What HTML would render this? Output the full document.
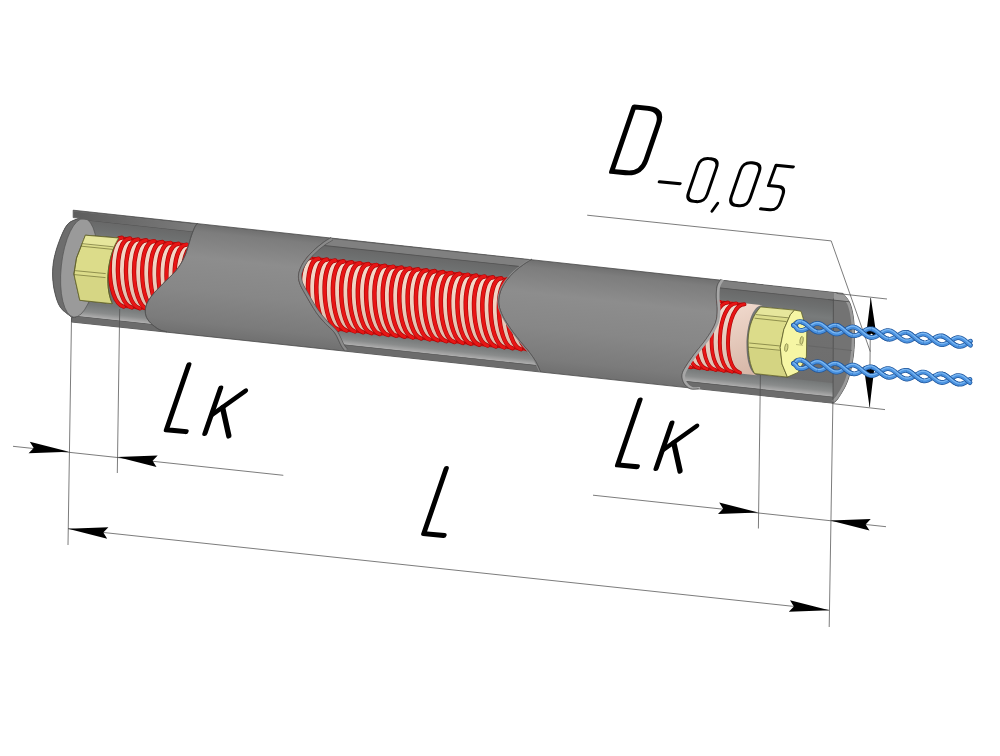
<!DOCTYPE html>
<html><head><meta charset="utf-8"><title>Cartridge heater</title>
<style>html,body{margin:0;padding:0;background:#fff;font-family:"Liberation Sans",sans-serif;}svg{display:block}</style></head>
<body>
<svg width="1000" height="756" viewBox="0 0 1000 756">
<defs>
<linearGradient id="gT" gradientUnits="userSpaceOnUse" x1="0" y1="202.4" x2="0" y2="314.3">
<stop offset="0" stop-color="#6e6e6e"/><stop offset="0.07" stop-color="#7d7d7d"/><stop offset="0.30" stop-color="#8d8d8d"/><stop offset="0.6" stop-color="#878787"/><stop offset="0.88" stop-color="#7b7b7b"/><stop offset="1" stop-color="#707070"/></linearGradient>
<linearGradient id="gI" gradientUnits="userSpaceOnUse" x1="0" y1="209.4" x2="0" y2="314.3">
<stop offset="0" stop-color="#676767"/><stop offset="0.1" stop-color="#6e7070"/><stop offset="0.19" stop-color="#787b7b"/><stop offset="0.3" stop-color="#707070"/><stop offset="1" stop-color="#6c6c6c"/></linearGradient>
<linearGradient id="gB" gradientUnits="userSpaceOnUse" x1="0" y1="294" x2="0" y2="308"><stop offset="0" stop-color="#747777"/><stop offset="0.3" stop-color="#7e8181"/><stop offset="0.6" stop-color="#8a8c8c"/><stop offset="0.88" stop-color="#a6a6a6"/><stop offset="1" stop-color="#b4b4b4"/></linearGradient>
<linearGradient id="gC3" gradientUnits="userSpaceOnUse" x1="725" y1="225" x2="760" y2="295"><stop offset="0" stop-color="#f2dcd0"/><stop offset="0.5" stop-color="#e4c8ba"/><stop offset="1" stop-color="#d4b4a4"/></linearGradient>
<linearGradient id="gLB" gradientUnits="userSpaceOnUse" x1="70" y1="0" x2="200" y2="0"><stop offset="0" stop-color="#5c5c5c"/><stop offset="0.5" stop-color="#6c6c6c"/><stop offset="1" stop-color="#7c7c7c"/></linearGradient>
<linearGradient id="gC" gradientUnits="userSpaceOnUse" x1="0" y1="222" x2="0" y2="296">
<stop offset="0" stop-color="#f6dccd"/><stop offset="0.5" stop-color="#efd0c0"/><stop offset="1" stop-color="#dcb8a8"/></linearGradient>
<clipPath id="c1"><path d="M73.2,210.2 L197.8,223.0 L197.8,223.0 C197.3,223.6 196.1,224.5 195.0,226.7 C193.9,228.8 192.4,232.8 191.3,235.9 C190.2,239.0 189.7,241.5 188.5,245.2 C187.3,248.9 186.1,253.8 183.9,258.1 C181.8,262.4 179.2,266.8 175.6,271.1 C172.0,275.4 166.6,279.9 162.6,284.1 C158.6,288.3 154.3,292.4 151.5,296.1 C148.7,299.8 146.8,303.1 145.9,306.3 C145.0,309.6 145.1,312.8 145.9,315.6 C146.7,318.4 148.4,320.7 150.6,323.0 C152.8,325.3 156.2,327.9 158.9,329.4 C161.6,330.9 165.5,331.4 166.8,331.8 L71.5,322.0 L50,320 L45,270 L60,215 Z"/></clipPath>
<clipPath id="c2"><path d="M331.1,237.6 C329.9,238.4 326.8,239.9 323.7,242.2 C320.6,244.5 316.0,248.1 312.6,251.5 C309.2,254.9 305.6,258.9 303.3,262.6 C301.0,266.3 299.3,270.3 298.7,273.7 C298.1,277.1 298.5,279.6 299.6,283.0 C300.7,286.4 302.4,289.2 305.2,294.1 C308.0,299.0 312.9,307.7 316.3,312.6 C319.7,317.5 322.5,320.3 325.6,323.7 C328.7,327.1 332.2,329.3 334.8,333.0 C337.4,336.7 339.6,342.9 341.3,345.9 C343.0,348.9 344.4,350.0 345.0,350.8 L540.5,371.7 L540.5,371.7 C539.7,370.0 537.6,364.8 535.7,361.5 C533.8,358.2 531.9,355.6 529.3,352.2 C526.7,348.8 523.4,345.4 520.0,341.1 C516.6,336.8 512.0,330.9 508.9,326.3 C505.8,321.7 503.2,317.3 501.5,313.3 C499.8,309.3 498.8,305.9 498.7,302.2 C498.6,298.5 499.4,294.7 500.6,291.1 C501.8,287.6 503.8,284.1 506.1,280.9 C508.4,277.7 511.5,274.5 514.4,271.7 C517.3,268.9 520.8,266.4 523.7,264.3 C526.6,262.2 530.6,260.0 532.0,259.1 Z"/></clipPath>
<clipPath id="c3"><path d="M720.9,279.3 C720.3,280.4 718.0,282.9 717.2,285.9 C716.4,288.8 716.3,293.0 716.3,297.0 C716.3,301.0 717.4,305.7 717.2,310.0 C717.1,314.3 717.1,318.4 715.4,323.0 C713.7,327.6 710.5,332.6 707.0,337.8 C703.5,343.0 697.6,349.6 694.1,354.4 C690.6,359.2 687.7,363.1 685.7,366.5 C683.7,369.9 682.3,372.0 682.0,374.8 C681.7,377.6 682.5,380.8 683.9,383.1 C685.3,385.4 687.9,387.8 690.4,388.7 C692.9,389.6 697.3,388.7 698.7,388.7 L833.0,403.4 L860,400 L860,290 L843.0,292.6 Z"/></clipPath>
</defs>
<clipPath id="ct"><path d="M73.2,210.2 L842.9,293.4 L842.9,293.4 C844.1,295.0 848.2,298.9 850.0,303.2 C851.8,307.5 852.9,313.3 853.6,319.3 C854.4,325.3 854.6,332.1 854.5,339.0 C854.4,345.9 853.9,353.3 852.7,360.4 C851.5,367.5 849.7,375.6 847.3,381.8 C844.9,388.1 840.8,394.3 838.4,397.9 C836.0,401.5 833.9,402.3 833.0,403.2 L71.5,322.0 L71.5,317.2  L72.4,317.6 C70.4,315.9 63.3,311.6 60.4,307.4 C57.5,303.2 56.1,297.9 54.8,292.6 C53.5,287.4 52.8,281.4 52.6,275.9 C52.5,270.3 52.8,265.2 53.9,259.3 C55.0,253.4 57.1,246.6 59.4,240.7 C61.7,234.8 64.4,227.9 67.8,224.1 C71.2,220.3 77.8,219.1 79.8,218.1 L73.2,217.6 Z"/></clipPath><g clip-path="url(#ct)"><g transform="matrix(1,0.107,0,1,0,0)"><rect x="40" y="200.4" width="830" height="115.9" fill="url(#gT)"/></g></g>
<path d="M73.2,210.2 L842.9,293.4 L842.9,293.4 C844.1,295.0 848.2,298.9 850.0,303.2 C851.8,307.5 852.9,313.3 853.6,319.3 C854.4,325.3 854.6,332.1 854.5,339.0 C854.4,345.9 853.9,353.3 852.7,360.4 C851.5,367.5 849.7,375.6 847.3,381.8 C844.9,388.1 840.8,394.3 838.4,397.9 C836.0,401.5 833.9,402.3 833.0,403.2 L71.5,322.0 L71.5,317.2  L72.4,317.6 C70.4,315.9 63.3,311.6 60.4,307.4 C57.5,303.2 56.1,297.9 54.8,292.6 C53.5,287.4 52.8,281.4 52.6,275.9 C52.5,270.3 52.8,265.2 53.9,259.3 C55.0,253.4 57.1,246.6 59.4,240.7 C61.7,234.8 64.4,227.9 67.8,224.1 C71.2,220.3 77.8,219.1 79.8,218.1 L73.2,217.6 Z" fill="none" stroke="#4a4a4a" stroke-width="0.8"/>
<g clip-path="url(#ct)">
<g clip-path="url(#c1)"><g transform="matrix(1,0.107,0,1,0,0)">
<rect x="40" y="199.4" width="170" height="117.9" fill="url(#gI)"/>
<rect x="40" y="199.4" width="170" height="4.2" fill="#5e5e5e"/>
<rect x="40" y="203.5" width="170" height="7.2" fill="#808080"/>
<rect x="40" y="210.4" width="170" height="0.9" fill="#545454"/>
<rect x="40" y="294.0" width="170" height="14.0" fill="url(#gB)"/>
<rect x="40" y="307.9" width="170" height="9.0" fill="#6c6c6c"/>
<rect x="40" y="307.6" width="170" height="0.7" fill="#585858"/>
</g></g>
<g clip-path="url(#c1)">
<path d="M79.8,218.1 C77.8,219.1 71.2,220.3 67.8,224.1 C64.4,227.9 61.7,234.8 59.4,240.7 C57.1,246.6 55.0,253.4 53.9,259.3 C52.8,265.2 52.5,270.3 52.6,275.9 C52.8,281.4 53.5,287.4 54.8,292.6 C56.1,297.9 57.5,303.2 60.4,307.4 C63.3,311.6 70.4,315.9 72.4,317.6 L76.0,317.0 L84.0,219.5 Z" fill="#6d6d6d" stroke="#444" stroke-width="0.7"/>
<ellipse cx="79" cy="267.8" rx="17.8" ry="49.6" transform="rotate(6 79 267.8)" fill="#9a9a9a" stroke="#555" stroke-width="0.7"/>
<g transform="matrix(1,0.107,0,1,0,0)"><path d="M91,290 L215,290 L215,307.6 L79.5,307.6 C85,303 89,297 91,290 Z" fill="url(#gB)"/></g>
</g>
<g clip-path="url(#ct)"><g clip-path="url(#c1)"><g transform="matrix(1,0.107,0,1,0,0)"><rect x="60" y="203.5" width="150" height="7.2" fill="url(#gLB)"/></g></g></g>
<g clip-path="url(#c1)"><g transform="matrix(1,0.107,0,1,0,0)">
<path d="M121.0,223.6 L200.0,223.6 C182.7,223.6 184.2,294.4 201.5,294.4 L122.5,294.4 C105.2,294.4 103.7,223.6 121.0,223.6 Z" fill="url(#gC)"/>
<path d="M122.0,224.6 L211.1,224.6 M123.5,293.4 L212.6,293.4" fill="none" stroke="#c80c0c" stroke-width="2.4"/>
<path d="M122.0,224.6 C104.7,226.6 106.2,291.4 123.5,293.4" fill="none" stroke="#a80808" stroke-width="4.3" stroke-linecap="round"/>
<path d="M122.0,224.6 C104.7,226.6 106.2,291.4 123.5,293.4" fill="none" stroke="#e81515" stroke-width="3.0" stroke-linecap="round"/>
<path d="M130.1,224.6 C112.8,226.6 114.3,291.4 131.6,293.4" fill="none" stroke="#a80808" stroke-width="4.3" stroke-linecap="round"/>
<path d="M130.1,224.6 C112.8,226.6 114.3,291.4 131.6,293.4" fill="none" stroke="#e81515" stroke-width="3.0" stroke-linecap="round"/>
<path d="M138.2,224.6 C120.9,226.6 122.4,291.4 139.7,293.4" fill="none" stroke="#a80808" stroke-width="4.3" stroke-linecap="round"/>
<path d="M138.2,224.6 C120.9,226.6 122.4,291.4 139.7,293.4" fill="none" stroke="#e81515" stroke-width="3.0" stroke-linecap="round"/>
<path d="M146.3,224.6 C129.0,226.6 130.5,291.4 147.8,293.4" fill="none" stroke="#a80808" stroke-width="4.3" stroke-linecap="round"/>
<path d="M146.3,224.6 C129.0,226.6 130.5,291.4 147.8,293.4" fill="none" stroke="#e81515" stroke-width="3.0" stroke-linecap="round"/>
<path d="M154.4,224.6 C137.1,226.6 138.6,291.4 155.9,293.4" fill="none" stroke="#a80808" stroke-width="4.3" stroke-linecap="round"/>
<path d="M154.4,224.6 C137.1,226.6 138.6,291.4 155.9,293.4" fill="none" stroke="#e81515" stroke-width="3.0" stroke-linecap="round"/>
<path d="M162.5,224.6 C145.2,226.6 146.7,291.4 164.0,293.4" fill="none" stroke="#a80808" stroke-width="4.3" stroke-linecap="round"/>
<path d="M162.5,224.6 C145.2,226.6 146.7,291.4 164.0,293.4" fill="none" stroke="#e81515" stroke-width="3.0" stroke-linecap="round"/>
<path d="M170.6,224.6 C153.3,226.6 154.8,291.4 172.1,293.4" fill="none" stroke="#a80808" stroke-width="4.3" stroke-linecap="round"/>
<path d="M170.6,224.6 C153.3,226.6 154.8,291.4 172.1,293.4" fill="none" stroke="#e81515" stroke-width="3.0" stroke-linecap="round"/>
<path d="M178.7,224.6 C161.4,226.6 162.9,291.4 180.2,293.4" fill="none" stroke="#a80808" stroke-width="4.3" stroke-linecap="round"/>
<path d="M178.7,224.6 C161.4,226.6 162.9,291.4 180.2,293.4" fill="none" stroke="#e81515" stroke-width="3.0" stroke-linecap="round"/>
<path d="M186.8,224.6 C169.5,226.6 171.0,291.4 188.3,293.4" fill="none" stroke="#a80808" stroke-width="4.3" stroke-linecap="round"/>
<path d="M186.8,224.6 C169.5,226.6 171.0,291.4 188.3,293.4" fill="none" stroke="#e81515" stroke-width="3.0" stroke-linecap="round"/>
<path d="M194.9,224.6 C177.6,226.6 179.1,291.4 196.4,293.4" fill="none" stroke="#a80808" stroke-width="4.3" stroke-linecap="round"/>
<path d="M194.9,224.6 C177.6,226.6 179.1,291.4 196.4,293.4" fill="none" stroke="#e81515" stroke-width="3.0" stroke-linecap="round"/>
<path d="M203.0,224.6 C185.7,226.6 187.2,291.4 204.5,293.4" fill="none" stroke="#a80808" stroke-width="4.3" stroke-linecap="round"/>
<path d="M203.0,224.6 C185.7,226.6 187.2,291.4 204.5,293.4" fill="none" stroke="#e81515" stroke-width="3.0" stroke-linecap="round"/>
<path d="M211.1,224.6 C193.8,226.6 195.3,291.4 212.6,293.4" fill="none" stroke="#a80808" stroke-width="4.3" stroke-linecap="round"/>
<path d="M211.1,224.6 C193.8,226.6 195.3,291.4 212.6,293.4" fill="none" stroke="#e81515" stroke-width="3.0" stroke-linecap="round"/>
</g></g>
<g clip-path="url(#c1)">
<path d="M85.4,235.2 L118.7,238 C108,255 104,285 112.2,303.7 L79.8,300.3 L73.9,274 L76.5,258 Z" fill="#dcdc8a" stroke="#5e5e2a" stroke-width="0.8" stroke-linejoin="round"/>
<path d="M85.4,235.2 L118.7,238 L113.6,247.6 L81.5,244.4 Z" fill="#e6e69c"/>
<path d="M74.2,275.5 L105.4,278.3 C105.8,288 108,297 112.2,303.7 L79.8,300.3 Z" fill="#d6d684"/>
<path d="M81.7,243.6 L113.6,246.8 M81.3,246.2 L112.8,249.4 M74.6,270.6 L105.7,273.6 M74.2,274.6 L105.5,277.6" stroke="#6e6e34" stroke-width="0.7" fill="none"/>
<path d="M85.4,235.2 L118.7,238 C108,255 104,285 112.2,303.7 L79.8,300.3 L73.9,274 L76.5,258 Z" fill="none" stroke="#5e5e2a" stroke-width="0.8" stroke-linejoin="round"/>
</g>
<g clip-path="url(#c1)"><g transform="matrix(1,0.107,0,1,0,0)">
<path d="M300.0,223.6 L300.0,223.6 C282.7,223.6 284.2,294.4 301.5,294.4 L301.5,294.4 C284.2,294.4 282.7,223.6 300.0,223.6 Z" fill="url(#gC)"/>
</g></g>
<g clip-path="url(#c2)"><g transform="matrix(1,0.107,0,1,0,0)">
<rect x="290" y="199.4" width="260" height="117.9" fill="url(#gI)"/>
<rect x="290" y="199.4" width="260" height="4.2" fill="#5e5e5e"/>
<rect x="290" y="203.5" width="260" height="7.2" fill="#808080"/>
<rect x="290" y="210.4" width="260" height="0.9" fill="#545454"/>
<rect x="290" y="294.0" width="260" height="14.0" fill="url(#gB)"/>
<rect x="290" y="307.9" width="260" height="9.0" fill="#6c6c6c"/>
<rect x="290" y="307.6" width="260" height="0.7" fill="#585858"/>
</g></g>
<g clip-path="url(#c2)"><g transform="matrix(1,0.107,0,1,0,0)">
<path d="M280.0,223.6 L560.0,223.6 C544.0,223.6 546.8,294.4 562.8,294.4 L282.8,294.4 C266.8,294.4 264.0,223.6 280.0,223.6 Z" fill="url(#gC)"/>
<path d="M285.5,224.6 L551.1,224.6 M288.3,293.4 L553.9,293.4" fill="none" stroke="#c80c0c" stroke-width="2.4"/>
<path d="M285.5,224.6 C269.5,226.6 272.3,291.4 288.3,293.4" fill="none" stroke="#a80808" stroke-width="4.5" stroke-linecap="round"/>
<path d="M285.5,224.6 C269.5,226.6 272.3,291.4 288.3,293.4" fill="none" stroke="#e81515" stroke-width="3.2" stroke-linecap="round"/>
<path d="M293.8,224.6 C277.8,226.6 280.6,291.4 296.6,293.4" fill="none" stroke="#a80808" stroke-width="4.5" stroke-linecap="round"/>
<path d="M293.8,224.6 C277.8,226.6 280.6,291.4 296.6,293.4" fill="none" stroke="#e81515" stroke-width="3.2" stroke-linecap="round"/>
<path d="M302.1,224.6 C286.1,226.6 288.9,291.4 304.9,293.4" fill="none" stroke="#a80808" stroke-width="4.5" stroke-linecap="round"/>
<path d="M302.1,224.6 C286.1,226.6 288.9,291.4 304.9,293.4" fill="none" stroke="#e81515" stroke-width="3.2" stroke-linecap="round"/>
<path d="M310.4,224.6 C294.4,226.6 297.2,291.4 313.2,293.4" fill="none" stroke="#a80808" stroke-width="4.5" stroke-linecap="round"/>
<path d="M310.4,224.6 C294.4,226.6 297.2,291.4 313.2,293.4" fill="none" stroke="#e81515" stroke-width="3.2" stroke-linecap="round"/>
<path d="M318.7,224.6 C302.7,226.6 305.5,291.4 321.5,293.4" fill="none" stroke="#a80808" stroke-width="4.5" stroke-linecap="round"/>
<path d="M318.7,224.6 C302.7,226.6 305.5,291.4 321.5,293.4" fill="none" stroke="#e81515" stroke-width="3.2" stroke-linecap="round"/>
<path d="M327.0,224.6 C311.0,226.6 313.8,291.4 329.8,293.4" fill="none" stroke="#a80808" stroke-width="4.5" stroke-linecap="round"/>
<path d="M327.0,224.6 C311.0,226.6 313.8,291.4 329.8,293.4" fill="none" stroke="#e81515" stroke-width="3.2" stroke-linecap="round"/>
<path d="M335.3,224.6 C319.3,226.6 322.1,291.4 338.1,293.4" fill="none" stroke="#a80808" stroke-width="4.5" stroke-linecap="round"/>
<path d="M335.3,224.6 C319.3,226.6 322.1,291.4 338.1,293.4" fill="none" stroke="#e81515" stroke-width="3.2" stroke-linecap="round"/>
<path d="M343.6,224.6 C327.6,226.6 330.4,291.4 346.4,293.4" fill="none" stroke="#a80808" stroke-width="4.5" stroke-linecap="round"/>
<path d="M343.6,224.6 C327.6,226.6 330.4,291.4 346.4,293.4" fill="none" stroke="#e81515" stroke-width="3.2" stroke-linecap="round"/>
<path d="M351.9,224.6 C335.9,226.6 338.7,291.4 354.7,293.4" fill="none" stroke="#a80808" stroke-width="4.5" stroke-linecap="round"/>
<path d="M351.9,224.6 C335.9,226.6 338.7,291.4 354.7,293.4" fill="none" stroke="#e81515" stroke-width="3.2" stroke-linecap="round"/>
<path d="M360.2,224.6 C344.2,226.6 347.0,291.4 363.0,293.4" fill="none" stroke="#a80808" stroke-width="4.5" stroke-linecap="round"/>
<path d="M360.2,224.6 C344.2,226.6 347.0,291.4 363.0,293.4" fill="none" stroke="#e81515" stroke-width="3.2" stroke-linecap="round"/>
<path d="M368.5,224.6 C352.5,226.6 355.3,291.4 371.3,293.4" fill="none" stroke="#a80808" stroke-width="4.5" stroke-linecap="round"/>
<path d="M368.5,224.6 C352.5,226.6 355.3,291.4 371.3,293.4" fill="none" stroke="#e81515" stroke-width="3.2" stroke-linecap="round"/>
<path d="M376.8,224.6 C360.8,226.6 363.6,291.4 379.6,293.4" fill="none" stroke="#a80808" stroke-width="4.5" stroke-linecap="round"/>
<path d="M376.8,224.6 C360.8,226.6 363.6,291.4 379.6,293.4" fill="none" stroke="#e81515" stroke-width="3.2" stroke-linecap="round"/>
<path d="M385.1,224.6 C369.1,226.6 371.9,291.4 387.9,293.4" fill="none" stroke="#a80808" stroke-width="4.5" stroke-linecap="round"/>
<path d="M385.1,224.6 C369.1,226.6 371.9,291.4 387.9,293.4" fill="none" stroke="#e81515" stroke-width="3.2" stroke-linecap="round"/>
<path d="M393.4,224.6 C377.4,226.6 380.2,291.4 396.2,293.4" fill="none" stroke="#a80808" stroke-width="4.5" stroke-linecap="round"/>
<path d="M393.4,224.6 C377.4,226.6 380.2,291.4 396.2,293.4" fill="none" stroke="#e81515" stroke-width="3.2" stroke-linecap="round"/>
<path d="M401.7,224.6 C385.7,226.6 388.5,291.4 404.5,293.4" fill="none" stroke="#a80808" stroke-width="4.5" stroke-linecap="round"/>
<path d="M401.7,224.6 C385.7,226.6 388.5,291.4 404.5,293.4" fill="none" stroke="#e81515" stroke-width="3.2" stroke-linecap="round"/>
<path d="M410.0,224.6 C394.0,226.6 396.8,291.4 412.8,293.4" fill="none" stroke="#a80808" stroke-width="4.5" stroke-linecap="round"/>
<path d="M410.0,224.6 C394.0,226.6 396.8,291.4 412.8,293.4" fill="none" stroke="#e81515" stroke-width="3.2" stroke-linecap="round"/>
<path d="M418.3,224.6 C402.3,226.6 405.1,291.4 421.1,293.4" fill="none" stroke="#a80808" stroke-width="4.5" stroke-linecap="round"/>
<path d="M418.3,224.6 C402.3,226.6 405.1,291.4 421.1,293.4" fill="none" stroke="#e81515" stroke-width="3.2" stroke-linecap="round"/>
<path d="M426.6,224.6 C410.6,226.6 413.4,291.4 429.4,293.4" fill="none" stroke="#a80808" stroke-width="4.5" stroke-linecap="round"/>
<path d="M426.6,224.6 C410.6,226.6 413.4,291.4 429.4,293.4" fill="none" stroke="#e81515" stroke-width="3.2" stroke-linecap="round"/>
<path d="M434.9,224.6 C418.9,226.6 421.7,291.4 437.7,293.4" fill="none" stroke="#a80808" stroke-width="4.5" stroke-linecap="round"/>
<path d="M434.9,224.6 C418.9,226.6 421.7,291.4 437.7,293.4" fill="none" stroke="#e81515" stroke-width="3.2" stroke-linecap="round"/>
<path d="M443.2,224.6 C427.2,226.6 430.0,291.4 446.0,293.4" fill="none" stroke="#a80808" stroke-width="4.5" stroke-linecap="round"/>
<path d="M443.2,224.6 C427.2,226.6 430.0,291.4 446.0,293.4" fill="none" stroke="#e81515" stroke-width="3.2" stroke-linecap="round"/>
<path d="M451.5,224.6 C435.5,226.6 438.3,291.4 454.3,293.4" fill="none" stroke="#a80808" stroke-width="4.5" stroke-linecap="round"/>
<path d="M451.5,224.6 C435.5,226.6 438.3,291.4 454.3,293.4" fill="none" stroke="#e81515" stroke-width="3.2" stroke-linecap="round"/>
<path d="M459.8,224.6 C443.8,226.6 446.6,291.4 462.6,293.4" fill="none" stroke="#a80808" stroke-width="4.5" stroke-linecap="round"/>
<path d="M459.8,224.6 C443.8,226.6 446.6,291.4 462.6,293.4" fill="none" stroke="#e81515" stroke-width="3.2" stroke-linecap="round"/>
<path d="M468.1,224.6 C452.1,226.6 454.9,291.4 470.9,293.4" fill="none" stroke="#a80808" stroke-width="4.5" stroke-linecap="round"/>
<path d="M468.1,224.6 C452.1,226.6 454.9,291.4 470.9,293.4" fill="none" stroke="#e81515" stroke-width="3.2" stroke-linecap="round"/>
<path d="M476.4,224.6 C460.4,226.6 463.2,291.4 479.2,293.4" fill="none" stroke="#a80808" stroke-width="4.5" stroke-linecap="round"/>
<path d="M476.4,224.6 C460.4,226.6 463.2,291.4 479.2,293.4" fill="none" stroke="#e81515" stroke-width="3.2" stroke-linecap="round"/>
<path d="M484.7,224.6 C468.7,226.6 471.5,291.4 487.5,293.4" fill="none" stroke="#a80808" stroke-width="4.5" stroke-linecap="round"/>
<path d="M484.7,224.6 C468.7,226.6 471.5,291.4 487.5,293.4" fill="none" stroke="#e81515" stroke-width="3.2" stroke-linecap="round"/>
<path d="M493.0,224.6 C477.0,226.6 479.8,291.4 495.8,293.4" fill="none" stroke="#a80808" stroke-width="4.5" stroke-linecap="round"/>
<path d="M493.0,224.6 C477.0,226.6 479.8,291.4 495.8,293.4" fill="none" stroke="#e81515" stroke-width="3.2" stroke-linecap="round"/>
<path d="M501.3,224.6 C485.3,226.6 488.1,291.4 504.1,293.4" fill="none" stroke="#a80808" stroke-width="4.5" stroke-linecap="round"/>
<path d="M501.3,224.6 C485.3,226.6 488.1,291.4 504.1,293.4" fill="none" stroke="#e81515" stroke-width="3.2" stroke-linecap="round"/>
<path d="M509.6,224.6 C493.6,226.6 496.4,291.4 512.4,293.4" fill="none" stroke="#a80808" stroke-width="4.5" stroke-linecap="round"/>
<path d="M509.6,224.6 C493.6,226.6 496.4,291.4 512.4,293.4" fill="none" stroke="#e81515" stroke-width="3.2" stroke-linecap="round"/>
<path d="M517.9,224.6 C501.9,226.6 504.7,291.4 520.7,293.4" fill="none" stroke="#a80808" stroke-width="4.5" stroke-linecap="round"/>
<path d="M517.9,224.6 C501.9,226.6 504.7,291.4 520.7,293.4" fill="none" stroke="#e81515" stroke-width="3.2" stroke-linecap="round"/>
<path d="M526.2,224.6 C510.2,226.6 513.0,291.4 529.0,293.4" fill="none" stroke="#a80808" stroke-width="4.5" stroke-linecap="round"/>
<path d="M526.2,224.6 C510.2,226.6 513.0,291.4 529.0,293.4" fill="none" stroke="#e81515" stroke-width="3.2" stroke-linecap="round"/>
<path d="M534.5,224.6 C518.5,226.6 521.3,291.4 537.3,293.4" fill="none" stroke="#a80808" stroke-width="4.5" stroke-linecap="round"/>
<path d="M534.5,224.6 C518.5,226.6 521.3,291.4 537.3,293.4" fill="none" stroke="#e81515" stroke-width="3.2" stroke-linecap="round"/>
<path d="M542.8,224.6 C526.8,226.6 529.6,291.4 545.6,293.4" fill="none" stroke="#a80808" stroke-width="4.5" stroke-linecap="round"/>
<path d="M542.8,224.6 C526.8,226.6 529.6,291.4 545.6,293.4" fill="none" stroke="#e81515" stroke-width="3.2" stroke-linecap="round"/>
<path d="M551.1,224.6 C535.1,226.6 537.9,291.4 553.9,293.4" fill="none" stroke="#a80808" stroke-width="4.5" stroke-linecap="round"/>
<path d="M551.1,224.6 C535.1,226.6 537.9,291.4 553.9,293.4" fill="none" stroke="#e81515" stroke-width="3.2" stroke-linecap="round"/>
</g></g>
<g clip-path="url(#c3)"><g transform="matrix(1,0.107,0,1,0,0)">
<rect x="670" y="199.4" width="200" height="117.9" fill="url(#gI)"/>
<rect x="670" y="199.4" width="200" height="4.2" fill="#5e5e5e"/>
<rect x="670" y="203.5" width="200" height="7.2" fill="#808080"/>
<rect x="670" y="210.4" width="200" height="0.9" fill="#545454"/>
<rect x="670" y="294.0" width="200" height="14.0" fill="url(#gB)"/>
<rect x="670" y="307.9" width="200" height="9.0" fill="#6c6c6c"/>
<rect x="670" y="307.6" width="200" height="0.7" fill="#585858"/>
</g></g>
<g clip-path="url(#c3)">
<path d="M833,297.5 L843,293.5 L842.9,293.4 C844.1,295.0 848.2,298.9 850.0,303.2 C851.8,307.5 852.9,313.3 853.6,319.3 C854.4,325.3 854.6,332.1 854.5,339.0 C854.4,345.9 853.9,353.3 852.7,360.4 C851.5,367.5 849.7,375.6 847.3,381.8 C844.9,388.1 840.8,394.3 838.4,397.9 C836.0,401.5 833.9,402.3 833.0,403.2 L833,403.2 Z" fill="#737373"/>
<path d="M841.5,294.5 C842.7,296.1 846.8,299.8 848.6,304.0 C850.4,308.2 851.5,313.7 852.2,319.5 C853.0,325.3 853.2,332.2 853.1,339.0 C853.0,345.8 852.5,353.0 851.3,360.0 C850.1,367.0 848.3,374.9 846.0,381.0 C843.7,387.1 839.6,393.4 837.4,396.8 C835.1,400.2 833.3,400.8 832.5,401.6" fill="none" stroke="#9a9a9a" stroke-width="2.6"/>
<g transform="matrix(1,0.107,0,1,0,0)"><rect x="828" y="199.4" width="40" height="4.2" fill="#5e5e5e"/><rect x="828" y="203.5" width="40" height="7.2" fill="#808080"/><rect x="834" y="203.5" width="30" height="7.2" fill="#9a9a9a"/><rect x="828" y="210.4" width="40" height="0.9" fill="#545454"/></g>
<path d="M833.4,298.6 L833,403" stroke="#4c4c4c" stroke-width="0.8"/>
</g>
<g clip-path="url(#c3)"><g transform="matrix(1,0.107,0,1,0,0)">
<path d="M700.0,223.6 L763.0,223.6 C744.3,223.6 739.8,294.4 758.5,294.4 L695.5,294.4 C676.8,294.4 681.3,223.6 700.0,223.6 Z" fill="url(#gC3)"/>
<path d="M687.1,224.6 L744.5,224.6 M682.6,293.4 L740.0,293.4" fill="none" stroke="#c80c0c" stroke-width="2.4"/>
<path d="M744.5,224.6 C725.8,226.6 721.3,291.4 740.0,293.4" fill="none" stroke="#a80808" stroke-width="3.9" stroke-linecap="round"/>
<path d="M744.5,224.6 C725.8,226.6 721.3,291.4 740.0,293.4" fill="none" stroke="#e81515" stroke-width="2.6" stroke-linecap="round"/>
<path d="M736.3,224.6 C717.6,226.6 713.1,291.4 731.8,293.4" fill="none" stroke="#a80808" stroke-width="3.9" stroke-linecap="round"/>
<path d="M736.3,224.6 C717.6,226.6 713.1,291.4 731.8,293.4" fill="none" stroke="#e81515" stroke-width="2.6" stroke-linecap="round"/>
<path d="M728.1,224.6 C709.4,226.6 704.9,291.4 723.6,293.4" fill="none" stroke="#a80808" stroke-width="3.9" stroke-linecap="round"/>
<path d="M728.1,224.6 C709.4,226.6 704.9,291.4 723.6,293.4" fill="none" stroke="#e81515" stroke-width="2.6" stroke-linecap="round"/>
<path d="M719.9,224.6 C701.2,226.6 696.7,291.4 715.4,293.4" fill="none" stroke="#a80808" stroke-width="3.9" stroke-linecap="round"/>
<path d="M719.9,224.6 C701.2,226.6 696.7,291.4 715.4,293.4" fill="none" stroke="#e81515" stroke-width="2.6" stroke-linecap="round"/>
<path d="M711.7,224.6 C693.0,226.6 688.5,291.4 707.2,293.4" fill="none" stroke="#a80808" stroke-width="3.9" stroke-linecap="round"/>
<path d="M711.7,224.6 C693.0,226.6 688.5,291.4 707.2,293.4" fill="none" stroke="#e81515" stroke-width="2.6" stroke-linecap="round"/>
<path d="M703.5,224.6 C684.8,226.6 680.3,291.4 699.0,293.4" fill="none" stroke="#a80808" stroke-width="3.9" stroke-linecap="round"/>
<path d="M703.5,224.6 C684.8,226.6 680.3,291.4 699.0,293.4" fill="none" stroke="#e81515" stroke-width="2.6" stroke-linecap="round"/>
<path d="M695.3,224.6 C676.6,226.6 672.1,291.4 690.8,293.4" fill="none" stroke="#a80808" stroke-width="3.9" stroke-linecap="round"/>
<path d="M695.3,224.6 C676.6,226.6 672.1,291.4 690.8,293.4" fill="none" stroke="#e81515" stroke-width="2.6" stroke-linecap="round"/>
<path d="M687.1,224.6 C668.4,226.6 663.9,291.4 682.6,293.4" fill="none" stroke="#a80808" stroke-width="3.9" stroke-linecap="round"/>
<path d="M687.1,224.6 C668.4,226.6 663.9,291.4 682.6,293.4" fill="none" stroke="#e81515" stroke-width="2.6" stroke-linecap="round"/>
</g></g>
<g clip-path="url(#c3)">
<path d="M760.6,306.9 L794.5,310.1 L790.4,314.6 L783.8,329.5 L780.2,347.4 L782,364 L787.4,377.1 L754.6,373.6 C750,366 748.1,355 748.1,340.2 C748.6,326 753,315 760.6,306.9 Z" fill="#dcdc8a"/>
<path d="M760.6,306.9 L794.5,310.1 L790.4,314.6 L787.8,318.6 L755.6,315.4 Z" fill="#e6e69c"/>
<path d="M748.6,348.3 L780.2,351.3 L782,364 L787.4,377.1 L754.6,373.6 C751,367 749,358 748.6,348.3 Z" fill="#d4d482"/>
<path d="M755.9,314.6 L788.2,317.8 M754.6,318.2 L786.4,321.6 M749.2,343 L780.6,346 M748.6,347.2 L780.2,350.3" stroke="#6e6e34" stroke-width="0.7" fill="none"/>
<path d="M760.6,306.9 L794.5,310.1 L790.4,314.6 L783.8,329.5 L780.2,347.4 L782,364 L787.4,377.1 L754.6,373.6 C750,366 748.1,355 748.1,340.2 C748.6,326 753,315 760.6,306.9 Z" fill="none" stroke="#5e5e2a" stroke-width="0.8" stroke-linejoin="round"/>
<path d="M794.5,310.1 L801.1,311.3 L806.8,330.7 L806.4,356.9 L798.1,372.4 L787.4,377.1 L782,364 L780.2,347.4 L783.8,329.5 L790.4,314.6 Z" fill="#f6f6a4" stroke="#5e5e2a" stroke-width="0.8" stroke-linejoin="round"/>
<ellipse cx="786.3" cy="347.6" rx="1.6" ry="4" fill="#d8d88a" stroke="#6a6a30" stroke-width="0.6" transform="rotate(8 786.3 347.6)"/>
<ellipse cx="801.6" cy="340.4" rx="1.6" ry="4" fill="#d8d88a" stroke="#6a6a30" stroke-width="0.6" transform="rotate(8 801.6 340.4)"/>
<ellipse cx="795.5" cy="324.6" rx="2.2" ry="3.6" fill="#c8c880" stroke="#6a6a30" stroke-width="0.5"/>
<ellipse cx="795.5" cy="362.6" rx="2.2" ry="3.6" fill="#c8c880" stroke="#6a6a30" stroke-width="0.5"/>
<path d="M796,344.5 L803,345.3" stroke="#8a8a50" stroke-width="0.5"/>
<path d="M808,345.8 L852,350.5" stroke="#606060" stroke-width="0.6"/>
</g>
</g>
<path d="M197.8,223.0 C197.3,223.6 196.1,224.5 195.0,226.7 C193.9,228.8 192.4,232.8 191.3,235.9 C190.2,239.0 189.7,241.5 188.5,245.2 C187.3,248.9 186.1,253.8 183.9,258.1 C181.8,262.4 179.2,266.8 175.6,271.1 C172.0,275.4 166.6,279.9 162.6,284.1 C158.6,288.3 154.3,292.4 151.5,296.1 C148.7,299.8 146.8,303.1 145.9,306.3 C145.0,309.6 145.1,312.8 145.9,315.6 C146.7,318.4 148.4,320.7 150.6,323.0 C152.8,325.3 156.2,327.9 158.9,329.4 C161.6,330.9 165.5,331.4 166.8,331.8" fill="none" stroke="#555" stroke-width="0.8"/>
<path d="M331.1,237.6 C329.9,238.4 326.8,239.9 323.7,242.2 C320.6,244.5 316.0,248.1 312.6,251.5 C309.2,254.9 305.6,258.9 303.3,262.6 C301.0,266.3 299.3,270.3 298.7,273.7 C298.1,277.1 298.5,279.6 299.6,283.0 C300.7,286.4 302.4,289.2 305.2,294.1 C308.0,299.0 312.9,307.7 316.3,312.6 C319.7,317.5 322.5,320.3 325.6,323.7 C328.7,327.1 332.2,329.3 334.8,333.0 C337.4,336.7 339.6,342.9 341.3,345.9 C343.0,348.9 344.4,350.0 345.0,350.8" fill="none" stroke="#555" stroke-width="0.8"/>
<path d="M532.0,259.1 C530.6,260.0 526.6,262.2 523.7,264.3 C520.8,266.4 517.3,268.9 514.4,271.7 C511.5,274.5 508.4,277.7 506.1,280.9 C503.8,284.1 501.8,287.6 500.6,291.1 C499.4,294.7 498.6,298.5 498.7,302.2 C498.8,305.9 499.8,309.3 501.5,313.3 C503.2,317.3 505.8,321.7 508.9,326.3 C512.0,330.9 516.6,336.8 520.0,341.1 C523.4,345.4 526.7,348.8 529.3,352.2 C531.9,355.6 533.8,358.2 535.7,361.5 C537.6,364.8 539.7,370.0 540.5,371.7" fill="none" stroke="#555" stroke-width="0.8"/>
<path d="M720.9,279.3 C720.3,280.4 718.0,282.9 717.2,285.9 C716.4,288.8 716.3,293.0 716.3,297.0 C716.3,301.0 717.4,305.7 717.2,310.0 C717.1,314.3 717.1,318.4 715.4,323.0 C713.7,327.6 710.5,332.6 707.0,337.8 C703.5,343.0 697.6,349.6 694.1,354.4 C690.6,359.2 687.7,363.1 685.7,366.5 C683.7,369.9 682.3,372.0 682.0,374.8 C681.7,377.6 682.5,380.8 683.9,383.1 C685.3,385.4 687.9,387.8 690.4,388.7 C692.9,389.6 697.3,388.7 698.7,388.7" fill="none" stroke="#555" stroke-width="0.8"/>
<g clip-path="url(#c3)"><path d="M722.3,279.3 C721.7,280.4 719.4,282.9 718.6,285.9 C717.8,288.8 717.7,293.0 717.7,297.0 C717.7,301.0 718.8,305.7 718.6,310.0 C718.5,314.3 718.5,318.4 716.8,323.0 C715.1,327.6 711.9,332.6 708.4,337.8 C704.9,343.0 699.0,349.6 695.5,354.4 C692.0,359.2 689.1,363.1 687.1,366.5 C685.1,369.9 683.7,372.0 683.4,374.8 C683.1,377.6 683.9,380.8 685.3,383.1 C686.7,385.4 689.3,387.8 691.8,388.7 C694.3,389.6 698.7,388.7 700.1,388.7" fill="none" stroke="#a6a6a6" stroke-width="3.6"/></g>
<g clip-path="url(#c2)"><path d="M331.1,237.6 C329.9,238.4 326.8,239.9 323.7,242.2 C320.6,244.5 316.0,248.1 312.6,251.5 C309.2,254.9 305.6,258.9 303.3,262.6 C301.0,266.3 299.3,270.3 298.7,273.7 C298.1,277.1 298.5,279.6 299.6,283.0 C300.7,286.4 302.4,289.2 305.2,294.1 C308.0,299.0 312.9,307.7 316.3,312.6 C319.7,317.5 322.5,320.3 325.6,323.7 C328.7,327.1 332.2,329.3 334.8,333.0 C337.4,336.7 339.6,342.9 341.3,345.9 C343.0,348.9 344.4,350.0 345.0,350.8" fill="none" stroke="#555" stroke-width="6.6"/><path d="M331.1,237.6 C329.9,238.4 326.8,239.9 323.7,242.2 C320.6,244.5 316.0,248.1 312.6,251.5 C309.2,254.9 305.6,258.9 303.3,262.6 C301.0,266.3 299.3,270.3 298.7,273.7 C298.1,277.1 298.5,279.6 299.6,283.0 C300.7,286.4 302.4,289.2 305.2,294.1 C308.0,299.0 312.9,307.7 316.3,312.6 C319.7,317.5 322.5,320.3 325.6,323.7 C328.7,327.1 332.2,329.3 334.8,333.0 C337.4,336.7 339.6,342.9 341.3,345.9 C343.0,348.9 344.4,350.0 345.0,350.8" fill="none" stroke="#8a8a8a" stroke-width="5.4"/><path d="M531.4,259.1 C530.0,260.0 526.0,262.2 523.1,264.3 C520.2,266.4 516.7,268.9 513.8,271.7 C510.9,274.5 507.8,277.7 505.5,280.9 C503.2,284.1 501.2,287.6 500.0,291.1 C498.8,294.7 497.9,298.5 498.1,302.2 C498.2,305.9 499.2,309.3 500.9,313.3 C502.6,317.3 505.2,321.7 508.3,326.3 C511.4,330.9 516.0,336.8 519.4,341.1 C522.8,345.4 526.1,348.8 528.7,352.2 C531.3,355.6 533.2,358.2 535.1,361.5 C537.0,364.8 539.1,370.0 539.9,371.7" fill="none" stroke="#8a8a8a" stroke-width="1.6"/></g>
<path d="M197.8,223.0 C197.3,223.6 196.1,224.5 195.0,226.7 C193.9,228.8 192.4,232.8 191.3,235.9 C190.2,239.0 189.7,241.5 188.5,245.2 C187.3,248.9 186.1,253.8 183.9,258.1 C181.8,262.4 179.2,266.8 175.6,271.1 C172.0,275.4 166.6,279.9 162.6,284.1 C158.6,288.3 154.3,292.4 151.5,296.1 C148.7,299.8 146.8,303.1 145.9,306.3 C145.0,309.6 145.1,312.8 145.9,315.6 C146.7,318.4 148.4,320.7 150.6,323.0 C152.8,325.3 156.2,327.9 158.9,329.4 C161.6,330.9 165.5,331.4 166.8,331.8" fill="none" stroke="#505050" stroke-width="0.7"/>
<path d="M331.1,237.6 C329.9,238.4 326.8,239.9 323.7,242.2 C320.6,244.5 316.0,248.1 312.6,251.5 C309.2,254.9 305.6,258.9 303.3,262.6 C301.0,266.3 299.3,270.3 298.7,273.7 C298.1,277.1 298.5,279.6 299.6,283.0 C300.7,286.4 302.4,289.2 305.2,294.1 C308.0,299.0 312.9,307.7 316.3,312.6 C319.7,317.5 322.5,320.3 325.6,323.7 C328.7,327.1 332.2,329.3 334.8,333.0 C337.4,336.7 339.6,342.9 341.3,345.9 C343.0,348.9 344.4,350.0 345.0,350.8" fill="none" stroke="#505050" stroke-width="0.7"/>
<path d="M532.0,259.1 C530.6,260.0 526.6,262.2 523.7,264.3 C520.8,266.4 517.3,268.9 514.4,271.7 C511.5,274.5 508.4,277.7 506.1,280.9 C503.8,284.1 501.8,287.6 500.6,291.1 C499.4,294.7 498.6,298.5 498.7,302.2 C498.8,305.9 499.8,309.3 501.5,313.3 C503.2,317.3 505.8,321.7 508.9,326.3 C512.0,330.9 516.6,336.8 520.0,341.1 C523.4,345.4 526.7,348.8 529.3,352.2 C531.9,355.6 533.8,358.2 535.7,361.5 C537.6,364.8 539.7,370.0 540.5,371.7" fill="none" stroke="#505050" stroke-width="0.7"/>
<path d="M720.9,279.3 C720.3,280.4 718.0,282.9 717.2,285.9 C716.4,288.8 716.3,293.0 716.3,297.0 C716.3,301.0 717.4,305.7 717.2,310.0 C717.1,314.3 717.1,318.4 715.4,323.0 C713.7,327.6 710.5,332.6 707.0,337.8 C703.5,343.0 697.6,349.6 694.1,354.4 C690.6,359.2 687.7,363.1 685.7,366.5 C683.7,369.9 682.3,372.0 682.0,374.8 C681.7,377.6 682.5,380.8 683.9,383.1 C685.3,385.4 687.9,387.8 690.4,388.7 C692.9,389.6 697.3,388.7 698.7,388.7" fill="none" stroke="#505050" stroke-width="0.7"/>
<path d="M71.5,318.0 L68.0,545.0" stroke="#505050" stroke-width="0.75" fill="none"/>
<path d="M119.7,309.0 L117.3,473.0" stroke="#505050" stroke-width="0.75" fill="none"/>
<path d="M760.4,375.0 L758.4,528.5" stroke="#505050" stroke-width="0.75" fill="none"/>
<path d="M832.9,402.0 L829.2,627.0" stroke="#505050" stroke-width="0.75" fill="none"/>
<path d="M13.0,446.3 L283.3,475.3" stroke="#505050" stroke-width="0.75" fill="none"/>
<polygon points="69.0,451.8 49.4,446.8 29.8,441.8 33.7,448.0 28.6,453.3 48.8,452.6" fill="#000"/>
<polygon points="117.3,457.0 136.9,462.0 156.5,467.0 152.6,460.8 157.7,455.5 137.5,456.2" fill="#000"/>
<path d="M593.0,495.2 L886.0,526.7" stroke="#505050" stroke-width="0.75" fill="none"/>
<polygon points="758.4,512.5 738.8,507.5 719.2,502.5 723.1,508.7 718.0,514.0 738.2,513.3" fill="#000"/>
<polygon points="830.3,520.6 849.9,525.6 869.5,530.6 865.6,524.4 870.7,519.1 850.5,519.8" fill="#000"/>
<path d="M68.0,528.7 L829.2,610.2" stroke="#505050" stroke-width="0.75" fill="none"/>
<polygon points="68.0,528.7 87.6,533.7 107.2,538.7 103.3,532.5 108.4,527.2 88.2,527.9" fill="#000"/>
<polygon points="829.2,610.2 809.6,605.2 790.0,600.2 793.9,606.4 788.8,611.7 809.0,611.0" fill="#000"/>
<path d="M587.2,215.2 L831.2,240.9" stroke="#505050" stroke-width="0.75" fill="none"/>
<path d="M831.2,240.9 L870.3,351.6" stroke="#505050" stroke-width="0.75" fill="none"/>
<path d="M836.5,293.4 L887.0,299.0" stroke="#505050" stroke-width="0.75" fill="none"/>
<path d="M832.6,403.6 L885.0,409.6" stroke="#505050" stroke-width="0.75" fill="none"/>
<path d="M870.6,298.0 L869.6,407.0" stroke="#505050" stroke-width="0.75" fill="none"/>
<polygon points="870.8,297.6 868.3,317.6 865.7,337.7 871.2,333.6 876.7,337.5 873.8,317.6" fill="#000"/>
<polygon points="869.6,407.6 872.1,386.6 874.7,365.5 869.2,369.6 863.7,365.7 866.6,386.6" fill="#000"/>
<path d="M793.5,325.3 L794.5,324.9 L795.5,324.2 L796.5,323.2 L797.5,322.1 L798.5,321.8 L799.5,321.7 L800.5,321.7 L801.5,321.9 L802.5,322.2 L803.5,322.6 L804.5,323.1 L805.5,323.7 L806.5,324.5 L807.5,325.3 L808.5,326.1 L809.5,327.0 L810.5,327.8 L811.5,328.7 L812.5,329.5 L813.5,330.2 L814.5,330.8 L815.5,331.3 L816.5,331.7 L817.5,332.0 L818.5,332.1 L819.5,332.1 L820.5,332.0 L821.5,331.7 L822.5,331.3 L823.5,330.9 L824.5,330.3 L825.5,329.7 L826.5,329.0 L827.5,328.4 L828.5,327.7 L829.5,327.1 L830.5,326.5 L831.5,326.1 L832.5,325.7 L833.5,325.4 L834.5,325.3 L835.5,325.3 L836.5,325.4 L837.5,325.6 L838.5,326.0 L839.5,326.5 L840.5,327.2 L841.5,327.9 L842.5,328.7 L843.5,329.5 L844.5,330.4 L845.5,331.2 L846.5,332.1 L847.5,332.9 L848.5,333.6 L849.5,334.3 L850.5,334.8 L851.5,335.2 L852.5,335.5 L853.5,335.7 L854.5,335.7 L855.5,335.6 L856.5,335.3 L857.5,335.0 L858.5,334.5 L859.5,334.0 L860.5,333.4 L861.5,332.7 L862.5,332.1 L863.5,331.4 L864.5,330.8 L865.5,330.2 L866.5,329.7 L867.5,329.3 L868.5,329.0 L869.5,328.8 L870.5,328.8 L871.5,328.9 L872.5,329.1 L873.5,329.5 L874.5,330.0 L875.5,330.6 L876.5,331.3 L877.5,332.1 L878.5,332.9 L879.5,333.8 L880.5,334.6 L881.5,335.5 L882.5,336.3 L883.5,337.0 L884.5,337.7 L885.5,338.3 L886.5,338.7 L887.5,339.0 L888.5,339.2 L889.5,339.3 L890.5,339.2 L891.5,339.0 L892.5,338.6 L893.5,338.2 L894.5,337.7 L895.5,337.1 L896.5,336.4 L897.5,335.8 L898.5,335.1 L899.5,334.5 L900.5,333.9 L901.5,333.4 L902.5,332.9 L903.5,332.6 L904.5,332.4 L905.5,332.4 L906.5,332.4 L907.5,332.6 L908.5,333.0 L909.5,333.4 L910.5,334.0 L911.5,334.7 L912.5,335.5 L913.5,336.3 L914.5,337.1 L915.5,338.0 L916.5,338.9 L917.5,339.7 L918.5,340.4 L919.5,341.1 L920.5,341.7 L921.5,342.2 L922.5,342.5 L923.5,342.7 L924.5,342.8 L925.5,342.8 L926.5,342.6 L927.5,342.3 L928.5,341.8 L929.5,341.3 L930.5,340.7 L931.5,340.1 L932.5,339.4 L933.5,338.8 L934.5,338.1 L935.5,337.5 L936.5,337.0 L937.5,336.6 L938.5,336.2 L939.5,336.0 L940.5,335.9 L941.5,336.0 L942.5,336.1 L943.5,336.5 L944.5,336.9 L945.5,337.5 L946.5,338.1 L947.5,338.9 L948.5,339.7 L949.5,340.5 L950.5,341.4 L951.5,342.3 L952.5,343.1 L953.5,343.9 L954.5,344.6 L955.5,345.2 L956.5,345.7 L957.5,346.0 L958.5,346.3 L959.5,346.4 L960.5,346.3 L961.5,346.2 L962.5,345.9 L963.5,345.5 L964.5,345.0 L965.5,344.4 L966.5,343.8 L967.5,343.1 L968.5,342.5 L969.5,341.8 L970.5,341.2" fill="none" stroke="#23589c" stroke-width="4.8" stroke-linecap="round" stroke-linejoin="round"/>
<path d="M793.5,325.3 L794.5,324.9 L795.5,324.2 L796.5,323.2 L797.5,322.1 L798.5,321.8 L799.5,321.7 L800.5,321.7 L801.5,321.9 L802.5,322.2 L803.5,322.6 L804.5,323.1 L805.5,323.7 L806.5,324.5 L807.5,325.3 L808.5,326.1 L809.5,327.0 L810.5,327.8 L811.5,328.7 L812.5,329.5 L813.5,330.2 L814.5,330.8 L815.5,331.3 L816.5,331.7 L817.5,332.0 L818.5,332.1 L819.5,332.1 L820.5,332.0 L821.5,331.7 L822.5,331.3 L823.5,330.9 L824.5,330.3 L825.5,329.7 L826.5,329.0 L827.5,328.4 L828.5,327.7 L829.5,327.1 L830.5,326.5 L831.5,326.1 L832.5,325.7 L833.5,325.4 L834.5,325.3 L835.5,325.3 L836.5,325.4 L837.5,325.6 L838.5,326.0 L839.5,326.5 L840.5,327.2 L841.5,327.9 L842.5,328.7 L843.5,329.5 L844.5,330.4 L845.5,331.2 L846.5,332.1 L847.5,332.9 L848.5,333.6 L849.5,334.3 L850.5,334.8 L851.5,335.2 L852.5,335.5 L853.5,335.7 L854.5,335.7 L855.5,335.6 L856.5,335.3 L857.5,335.0 L858.5,334.5 L859.5,334.0 L860.5,333.4 L861.5,332.7 L862.5,332.1 L863.5,331.4 L864.5,330.8 L865.5,330.2 L866.5,329.7 L867.5,329.3 L868.5,329.0 L869.5,328.8 L870.5,328.8 L871.5,328.9 L872.5,329.1 L873.5,329.5 L874.5,330.0 L875.5,330.6 L876.5,331.3 L877.5,332.1 L878.5,332.9 L879.5,333.8 L880.5,334.6 L881.5,335.5 L882.5,336.3 L883.5,337.0 L884.5,337.7 L885.5,338.3 L886.5,338.7 L887.5,339.0 L888.5,339.2 L889.5,339.3 L890.5,339.2 L891.5,339.0 L892.5,338.6 L893.5,338.2 L894.5,337.7 L895.5,337.1 L896.5,336.4 L897.5,335.8 L898.5,335.1 L899.5,334.5 L900.5,333.9 L901.5,333.4 L902.5,332.9 L903.5,332.6 L904.5,332.4 L905.5,332.4 L906.5,332.4 L907.5,332.6 L908.5,333.0 L909.5,333.4 L910.5,334.0 L911.5,334.7 L912.5,335.5 L913.5,336.3 L914.5,337.1 L915.5,338.0 L916.5,338.9 L917.5,339.7 L918.5,340.4 L919.5,341.1 L920.5,341.7 L921.5,342.2 L922.5,342.5 L923.5,342.7 L924.5,342.8 L925.5,342.8 L926.5,342.6 L927.5,342.3 L928.5,341.8 L929.5,341.3 L930.5,340.7 L931.5,340.1 L932.5,339.4 L933.5,338.8 L934.5,338.1 L935.5,337.5 L936.5,337.0 L937.5,336.6 L938.5,336.2 L939.5,336.0 L940.5,335.9 L941.5,336.0 L942.5,336.1 L943.5,336.5 L944.5,336.9 L945.5,337.5 L946.5,338.1 L947.5,338.9 L948.5,339.7 L949.5,340.5 L950.5,341.4 L951.5,342.3 L952.5,343.1 L953.5,343.9 L954.5,344.6 L955.5,345.2 L956.5,345.7 L957.5,346.0 L958.5,346.3 L959.5,346.4 L960.5,346.3 L961.5,346.2 L962.5,345.9 L963.5,345.5 L964.5,345.0 L965.5,344.4 L966.5,343.8 L967.5,343.1 L968.5,342.5 L969.5,341.8 L970.5,341.2" fill="none" stroke="#4a92e0" stroke-width="3.3" stroke-linecap="round" stroke-linejoin="round"/>
<path d="M793.5,325.3 L794.5,324.9 L795.5,324.2 L796.5,323.2 L797.5,322.1 L798.5,321.8 L799.5,321.7 L800.5,321.7 L801.5,321.9 L802.5,322.2 L803.5,322.6 L804.5,323.1 L805.5,323.7 L806.5,324.5 L807.5,325.3 L808.5,326.1 L809.5,327.0 L810.5,327.8 L811.5,328.7 L812.5,329.5 L813.5,330.2 L814.5,330.8 L815.5,331.3 L816.5,331.7 L817.5,332.0 L818.5,332.1 L819.5,332.1 L820.5,332.0 L821.5,331.7 L822.5,331.3 L823.5,330.9 L824.5,330.3 L825.5,329.7 L826.5,329.0 L827.5,328.4 L828.5,327.7 L829.5,327.1 L830.5,326.5 L831.5,326.1 L832.5,325.7 L833.5,325.4 L834.5,325.3 L835.5,325.3 L836.5,325.4 L837.5,325.6 L838.5,326.0 L839.5,326.5 L840.5,327.2 L841.5,327.9 L842.5,328.7 L843.5,329.5 L844.5,330.4 L845.5,331.2 L846.5,332.1 L847.5,332.9 L848.5,333.6 L849.5,334.3 L850.5,334.8 L851.5,335.2 L852.5,335.5 L853.5,335.7 L854.5,335.7 L855.5,335.6 L856.5,335.3 L857.5,335.0 L858.5,334.5 L859.5,334.0 L860.5,333.4 L861.5,332.7 L862.5,332.1 L863.5,331.4 L864.5,330.8 L865.5,330.2 L866.5,329.7 L867.5,329.3 L868.5,329.0 L869.5,328.8 L870.5,328.8 L871.5,328.9 L872.5,329.1 L873.5,329.5 L874.5,330.0 L875.5,330.6 L876.5,331.3 L877.5,332.1 L878.5,332.9 L879.5,333.8 L880.5,334.6 L881.5,335.5 L882.5,336.3 L883.5,337.0 L884.5,337.7 L885.5,338.3 L886.5,338.7 L887.5,339.0 L888.5,339.2 L889.5,339.3 L890.5,339.2 L891.5,339.0 L892.5,338.6 L893.5,338.2 L894.5,337.7 L895.5,337.1 L896.5,336.4 L897.5,335.8 L898.5,335.1 L899.5,334.5 L900.5,333.9 L901.5,333.4 L902.5,332.9 L903.5,332.6 L904.5,332.4 L905.5,332.4 L906.5,332.4 L907.5,332.6 L908.5,333.0 L909.5,333.4 L910.5,334.0 L911.5,334.7 L912.5,335.5 L913.5,336.3 L914.5,337.1 L915.5,338.0 L916.5,338.9 L917.5,339.7 L918.5,340.4 L919.5,341.1 L920.5,341.7 L921.5,342.2 L922.5,342.5 L923.5,342.7 L924.5,342.8 L925.5,342.8 L926.5,342.6 L927.5,342.3 L928.5,341.8 L929.5,341.3 L930.5,340.7 L931.5,340.1 L932.5,339.4 L933.5,338.8 L934.5,338.1 L935.5,337.5 L936.5,337.0 L937.5,336.6 L938.5,336.2 L939.5,336.0 L940.5,335.9 L941.5,336.0 L942.5,336.1 L943.5,336.5 L944.5,336.9 L945.5,337.5 L946.5,338.1 L947.5,338.9 L948.5,339.7 L949.5,340.5 L950.5,341.4 L951.5,342.3 L952.5,343.1 L953.5,343.9 L954.5,344.6 L955.5,345.2 L956.5,345.7 L957.5,346.0 L958.5,346.3 L959.5,346.4 L960.5,346.3 L961.5,346.2 L962.5,345.9 L963.5,345.5 L964.5,345.0 L965.5,344.4 L966.5,343.8 L967.5,343.1 L968.5,342.5 L969.5,341.8 L970.5,341.2" fill="none" stroke="#7db8f2" stroke-width="1.2" stroke-linecap="round" transform="translate(0,-0.9)"/>
<path d="M793.5,325.3 L794.5,325.9 L795.5,326.8 L796.5,328.0 L797.5,329.4 L798.5,329.8 L799.5,330.1 L800.5,330.3 L801.5,330.4 L802.5,330.3 L803.5,330.1 L804.5,329.7 L805.5,329.3 L806.5,328.8 L807.5,328.2 L808.5,327.5 L809.5,326.9 L810.5,326.2 L811.5,325.6 L812.5,325.0 L813.5,324.5 L814.5,324.0 L815.5,323.7 L816.5,323.5 L817.5,323.5 L818.5,323.5 L819.5,323.7 L820.5,324.1 L821.5,324.5 L822.5,325.1 L823.5,325.8 L824.5,326.6 L825.5,327.4 L826.5,328.2 L827.5,329.1 L828.5,330.0 L829.5,330.8 L830.5,331.5 L831.5,332.2 L832.5,332.8 L833.5,333.3 L834.5,333.6 L835.5,333.8 L836.5,333.9 L837.5,333.9 L838.5,333.7 L839.5,333.4 L840.5,332.9 L841.5,332.4 L842.5,331.8 L843.5,331.2 L844.5,330.5 L845.5,329.9 L846.5,329.2 L847.5,328.6 L848.5,328.1 L849.5,327.7 L850.5,327.3 L851.5,327.1 L852.5,327.0 L853.5,327.1 L854.5,327.2 L855.5,327.6 L856.5,328.0 L857.5,328.6 L858.5,329.2 L859.5,330.0 L860.5,330.8 L861.5,331.6 L862.5,332.5 L863.5,333.4 L864.5,334.2 L865.5,335.0 L866.5,335.7 L867.5,336.3 L868.5,336.8 L869.5,337.1 L870.5,337.4 L871.5,337.5 L872.5,337.4 L873.5,337.3 L874.5,337.0 L875.5,336.6 L876.5,336.1 L877.5,335.5 L878.5,334.9 L879.5,334.2 L880.5,333.6 L881.5,332.9 L882.5,332.3 L883.5,331.8 L884.5,331.3 L885.5,331.0 L886.5,330.7 L887.5,330.6 L888.5,330.6 L889.5,330.8 L890.5,331.0 L891.5,331.5 L892.5,332.0 L893.5,332.6 L894.5,333.4 L895.5,334.2 L896.5,335.0 L897.5,335.9 L898.5,336.7 L899.5,337.6 L900.5,338.4 L901.5,339.1 L902.5,339.7 L903.5,340.2 L904.5,340.6 L905.5,340.9 L906.5,341.0 L907.5,341.0 L908.5,340.9 L909.5,340.6 L910.5,340.2 L911.5,339.8 L912.5,339.2 L913.5,338.6 L914.5,337.9 L915.5,337.3 L916.5,336.6 L917.5,336.0 L918.5,335.4 L919.5,335.0 L920.5,334.6 L921.5,334.3 L922.5,334.2 L923.5,334.2 L924.5,334.3 L925.5,334.5 L926.5,334.9 L927.5,335.4 L928.5,336.1 L929.5,336.8 L930.5,337.6 L931.5,338.4 L932.5,339.3 L933.5,340.1 L934.5,341.0 L935.5,341.8 L936.5,342.5 L937.5,343.2 L938.5,343.7 L939.5,344.1 L940.5,344.4 L941.5,344.6 L942.5,344.6 L943.5,344.5 L944.5,344.2 L945.5,343.9 L946.5,343.4 L947.5,342.9 L948.5,342.3 L949.5,341.6 L950.5,341.0 L951.5,340.3 L952.5,339.7 L953.5,339.1 L954.5,338.6 L955.5,338.2 L956.5,337.9 L957.5,337.7 L958.5,337.7 L959.5,337.8 L960.5,338.0 L961.5,338.4 L962.5,338.9 L963.5,339.5 L964.5,340.2 L965.5,341.0 L966.5,341.8 L967.5,342.7 L968.5,343.5 L969.5,344.4 L970.5,345.2" fill="none" stroke="#23589c" stroke-width="4.8" stroke-linecap="round" stroke-linejoin="round"/>
<path d="M793.5,325.3 L794.5,325.9 L795.5,326.8 L796.5,328.0 L797.5,329.4 L798.5,329.8 L799.5,330.1 L800.5,330.3 L801.5,330.4 L802.5,330.3 L803.5,330.1 L804.5,329.7 L805.5,329.3 L806.5,328.8 L807.5,328.2 L808.5,327.5 L809.5,326.9 L810.5,326.2 L811.5,325.6 L812.5,325.0 L813.5,324.5 L814.5,324.0 L815.5,323.7 L816.5,323.5 L817.5,323.5 L818.5,323.5 L819.5,323.7 L820.5,324.1 L821.5,324.5 L822.5,325.1 L823.5,325.8 L824.5,326.6 L825.5,327.4 L826.5,328.2 L827.5,329.1 L828.5,330.0 L829.5,330.8 L830.5,331.5 L831.5,332.2 L832.5,332.8 L833.5,333.3 L834.5,333.6 L835.5,333.8 L836.5,333.9 L837.5,333.9 L838.5,333.7 L839.5,333.4 L840.5,332.9 L841.5,332.4 L842.5,331.8 L843.5,331.2 L844.5,330.5 L845.5,329.9 L846.5,329.2 L847.5,328.6 L848.5,328.1 L849.5,327.7 L850.5,327.3 L851.5,327.1 L852.5,327.0 L853.5,327.1 L854.5,327.2 L855.5,327.6 L856.5,328.0 L857.5,328.6 L858.5,329.2 L859.5,330.0 L860.5,330.8 L861.5,331.6 L862.5,332.5 L863.5,333.4 L864.5,334.2 L865.5,335.0 L866.5,335.7 L867.5,336.3 L868.5,336.8 L869.5,337.1 L870.5,337.4 L871.5,337.5 L872.5,337.4 L873.5,337.3 L874.5,337.0 L875.5,336.6 L876.5,336.1 L877.5,335.5 L878.5,334.9 L879.5,334.2 L880.5,333.6 L881.5,332.9 L882.5,332.3 L883.5,331.8 L884.5,331.3 L885.5,331.0 L886.5,330.7 L887.5,330.6 L888.5,330.6 L889.5,330.8 L890.5,331.0 L891.5,331.5 L892.5,332.0 L893.5,332.6 L894.5,333.4 L895.5,334.2 L896.5,335.0 L897.5,335.9 L898.5,336.7 L899.5,337.6 L900.5,338.4 L901.5,339.1 L902.5,339.7 L903.5,340.2 L904.5,340.6 L905.5,340.9 L906.5,341.0 L907.5,341.0 L908.5,340.9 L909.5,340.6 L910.5,340.2 L911.5,339.8 L912.5,339.2 L913.5,338.6 L914.5,337.9 L915.5,337.3 L916.5,336.6 L917.5,336.0 L918.5,335.4 L919.5,335.0 L920.5,334.6 L921.5,334.3 L922.5,334.2 L923.5,334.2 L924.5,334.3 L925.5,334.5 L926.5,334.9 L927.5,335.4 L928.5,336.1 L929.5,336.8 L930.5,337.6 L931.5,338.4 L932.5,339.3 L933.5,340.1 L934.5,341.0 L935.5,341.8 L936.5,342.5 L937.5,343.2 L938.5,343.7 L939.5,344.1 L940.5,344.4 L941.5,344.6 L942.5,344.6 L943.5,344.5 L944.5,344.2 L945.5,343.9 L946.5,343.4 L947.5,342.9 L948.5,342.3 L949.5,341.6 L950.5,341.0 L951.5,340.3 L952.5,339.7 L953.5,339.1 L954.5,338.6 L955.5,338.2 L956.5,337.9 L957.5,337.7 L958.5,337.7 L959.5,337.8 L960.5,338.0 L961.5,338.4 L962.5,338.9 L963.5,339.5 L964.5,340.2 L965.5,341.0 L966.5,341.8 L967.5,342.7 L968.5,343.5 L969.5,344.4 L970.5,345.2" fill="none" stroke="#4a92e0" stroke-width="3.3" stroke-linecap="round" stroke-linejoin="round"/>
<path d="M793.5,325.3 L794.5,325.9 L795.5,326.8 L796.5,328.0 L797.5,329.4 L798.5,329.8 L799.5,330.1 L800.5,330.3 L801.5,330.4 L802.5,330.3 L803.5,330.1 L804.5,329.7 L805.5,329.3 L806.5,328.8 L807.5,328.2 L808.5,327.5 L809.5,326.9 L810.5,326.2 L811.5,325.6 L812.5,325.0 L813.5,324.5 L814.5,324.0 L815.5,323.7 L816.5,323.5 L817.5,323.5 L818.5,323.5 L819.5,323.7 L820.5,324.1 L821.5,324.5 L822.5,325.1 L823.5,325.8 L824.5,326.6 L825.5,327.4 L826.5,328.2 L827.5,329.1 L828.5,330.0 L829.5,330.8 L830.5,331.5 L831.5,332.2 L832.5,332.8 L833.5,333.3 L834.5,333.6 L835.5,333.8 L836.5,333.9 L837.5,333.9 L838.5,333.7 L839.5,333.4 L840.5,332.9 L841.5,332.4 L842.5,331.8 L843.5,331.2 L844.5,330.5 L845.5,329.9 L846.5,329.2 L847.5,328.6 L848.5,328.1 L849.5,327.7 L850.5,327.3 L851.5,327.1 L852.5,327.0 L853.5,327.1 L854.5,327.2 L855.5,327.6 L856.5,328.0 L857.5,328.6 L858.5,329.2 L859.5,330.0 L860.5,330.8 L861.5,331.6 L862.5,332.5 L863.5,333.4 L864.5,334.2 L865.5,335.0 L866.5,335.7 L867.5,336.3 L868.5,336.8 L869.5,337.1 L870.5,337.4 L871.5,337.5 L872.5,337.4 L873.5,337.3 L874.5,337.0 L875.5,336.6 L876.5,336.1 L877.5,335.5 L878.5,334.9 L879.5,334.2 L880.5,333.6 L881.5,332.9 L882.5,332.3 L883.5,331.8 L884.5,331.3 L885.5,331.0 L886.5,330.7 L887.5,330.6 L888.5,330.6 L889.5,330.8 L890.5,331.0 L891.5,331.5 L892.5,332.0 L893.5,332.6 L894.5,333.4 L895.5,334.2 L896.5,335.0 L897.5,335.9 L898.5,336.7 L899.5,337.6 L900.5,338.4 L901.5,339.1 L902.5,339.7 L903.5,340.2 L904.5,340.6 L905.5,340.9 L906.5,341.0 L907.5,341.0 L908.5,340.9 L909.5,340.6 L910.5,340.2 L911.5,339.8 L912.5,339.2 L913.5,338.6 L914.5,337.9 L915.5,337.3 L916.5,336.6 L917.5,336.0 L918.5,335.4 L919.5,335.0 L920.5,334.6 L921.5,334.3 L922.5,334.2 L923.5,334.2 L924.5,334.3 L925.5,334.5 L926.5,334.9 L927.5,335.4 L928.5,336.1 L929.5,336.8 L930.5,337.6 L931.5,338.4 L932.5,339.3 L933.5,340.1 L934.5,341.0 L935.5,341.8 L936.5,342.5 L937.5,343.2 L938.5,343.7 L939.5,344.1 L940.5,344.4 L941.5,344.6 L942.5,344.6 L943.5,344.5 L944.5,344.2 L945.5,343.9 L946.5,343.4 L947.5,342.9 L948.5,342.3 L949.5,341.6 L950.5,341.0 L951.5,340.3 L952.5,339.7 L953.5,339.1 L954.5,338.6 L955.5,338.2 L956.5,337.9 L957.5,337.7 L958.5,337.7 L959.5,337.8 L960.5,338.0 L961.5,338.4 L962.5,338.9 L963.5,339.5 L964.5,340.2 L965.5,341.0 L966.5,341.8 L967.5,342.7 L968.5,343.5 L969.5,344.4 L970.5,345.2" fill="none" stroke="#7db8f2" stroke-width="1.2" stroke-linecap="round" transform="translate(0,-0.9)"/>
<path d="M801.5,321.9 L802.5,322.2 L803.5,322.6 L804.5,323.1 L805.5,323.7 L806.5,324.5 L807.5,325.3 L808.5,326.1 L809.5,327.0 L810.5,327.8 L811.5,328.7 L812.5,329.5 L813.5,330.2 L814.5,330.8 L815.5,331.3 L816.5,331.7 L817.5,332.0" fill="none" stroke="#23589c" stroke-width="4.8" stroke-linejoin="round"/>
<path d="M801.5,321.9 L802.5,322.2 L803.5,322.6 L804.5,323.1 L805.5,323.7 L806.5,324.5 L807.5,325.3 L808.5,326.1 L809.5,327.0 L810.5,327.8 L811.5,328.7 L812.5,329.5 L813.5,330.2 L814.5,330.8 L815.5,331.3 L816.5,331.7 L817.5,332.0" fill="none" stroke="#4a92e0" stroke-width="3.3" stroke-linejoin="round"/>
<path d="M801.5,321.9 L802.5,322.2 L803.5,322.6 L804.5,323.1 L805.5,323.7 L806.5,324.5 L807.5,325.3 L808.5,326.1 L809.5,327.0 L810.5,327.8 L811.5,328.7 L812.5,329.5 L813.5,330.2 L814.5,330.8 L815.5,331.3 L816.5,331.7 L817.5,332.0" fill="none" stroke="#7db8f2" stroke-width="1.2" transform="translate(0,-0.9)"/>
<path d="M836.5,325.4 L837.5,325.6 L838.5,326.0 L839.5,326.5 L840.5,327.2 L841.5,327.9 L842.5,328.7 L843.5,329.5 L844.5,330.4 L845.5,331.2 L846.5,332.1 L847.5,332.9 L848.5,333.6 L849.5,334.3 L850.5,334.8 L851.5,335.2 L852.5,335.5" fill="none" stroke="#23589c" stroke-width="4.8" stroke-linejoin="round"/>
<path d="M836.5,325.4 L837.5,325.6 L838.5,326.0 L839.5,326.5 L840.5,327.2 L841.5,327.9 L842.5,328.7 L843.5,329.5 L844.5,330.4 L845.5,331.2 L846.5,332.1 L847.5,332.9 L848.5,333.6 L849.5,334.3 L850.5,334.8 L851.5,335.2 L852.5,335.5" fill="none" stroke="#4a92e0" stroke-width="3.3" stroke-linejoin="round"/>
<path d="M836.5,325.4 L837.5,325.6 L838.5,326.0 L839.5,326.5 L840.5,327.2 L841.5,327.9 L842.5,328.7 L843.5,329.5 L844.5,330.4 L845.5,331.2 L846.5,332.1 L847.5,332.9 L848.5,333.6 L849.5,334.3 L850.5,334.8 L851.5,335.2 L852.5,335.5" fill="none" stroke="#7db8f2" stroke-width="1.2" transform="translate(0,-0.9)"/>
<path d="M871.5,328.9 L872.5,329.1 L873.5,329.5 L874.5,330.0 L875.5,330.6 L876.5,331.3 L877.5,332.1 L878.5,332.9 L879.5,333.8 L880.5,334.6 L881.5,335.5 L882.5,336.3 L883.5,337.0 L884.5,337.7 L885.5,338.3 L886.5,338.7 L887.5,339.0 L888.5,339.2" fill="none" stroke="#23589c" stroke-width="4.8" stroke-linejoin="round"/>
<path d="M871.5,328.9 L872.5,329.1 L873.5,329.5 L874.5,330.0 L875.5,330.6 L876.5,331.3 L877.5,332.1 L878.5,332.9 L879.5,333.8 L880.5,334.6 L881.5,335.5 L882.5,336.3 L883.5,337.0 L884.5,337.7 L885.5,338.3 L886.5,338.7 L887.5,339.0 L888.5,339.2" fill="none" stroke="#4a92e0" stroke-width="3.3" stroke-linejoin="round"/>
<path d="M871.5,328.9 L872.5,329.1 L873.5,329.5 L874.5,330.0 L875.5,330.6 L876.5,331.3 L877.5,332.1 L878.5,332.9 L879.5,333.8 L880.5,334.6 L881.5,335.5 L882.5,336.3 L883.5,337.0 L884.5,337.7 L885.5,338.3 L886.5,338.7 L887.5,339.0 L888.5,339.2" fill="none" stroke="#7db8f2" stroke-width="1.2" transform="translate(0,-0.9)"/>
<path d="M906.5,332.4 L907.5,332.6 L908.5,333.0 L909.5,333.4 L910.5,334.0 L911.5,334.7 L912.5,335.5 L913.5,336.3 L914.5,337.1 L915.5,338.0 L916.5,338.9 L917.5,339.7 L918.5,340.4 L919.5,341.1 L920.5,341.7 L921.5,342.2 L922.5,342.5 L923.5,342.7" fill="none" stroke="#23589c" stroke-width="4.8" stroke-linejoin="round"/>
<path d="M906.5,332.4 L907.5,332.6 L908.5,333.0 L909.5,333.4 L910.5,334.0 L911.5,334.7 L912.5,335.5 L913.5,336.3 L914.5,337.1 L915.5,338.0 L916.5,338.9 L917.5,339.7 L918.5,340.4 L919.5,341.1 L920.5,341.7 L921.5,342.2 L922.5,342.5 L923.5,342.7" fill="none" stroke="#4a92e0" stroke-width="3.3" stroke-linejoin="round"/>
<path d="M906.5,332.4 L907.5,332.6 L908.5,333.0 L909.5,333.4 L910.5,334.0 L911.5,334.7 L912.5,335.5 L913.5,336.3 L914.5,337.1 L915.5,338.0 L916.5,338.9 L917.5,339.7 L918.5,340.4 L919.5,341.1 L920.5,341.7 L921.5,342.2 L922.5,342.5 L923.5,342.7" fill="none" stroke="#7db8f2" stroke-width="1.2" transform="translate(0,-0.9)"/>
<path d="M941.5,336.0 L942.5,336.1 L943.5,336.5 L944.5,336.9 L945.5,337.5 L946.5,338.1 L947.5,338.9 L948.5,339.7 L949.5,340.5 L950.5,341.4 L951.5,342.3 L952.5,343.1 L953.5,343.9 L954.5,344.6 L955.5,345.2 L956.5,345.7 L957.5,346.0 L958.5,346.3" fill="none" stroke="#23589c" stroke-width="4.8" stroke-linejoin="round"/>
<path d="M941.5,336.0 L942.5,336.1 L943.5,336.5 L944.5,336.9 L945.5,337.5 L946.5,338.1 L947.5,338.9 L948.5,339.7 L949.5,340.5 L950.5,341.4 L951.5,342.3 L952.5,343.1 L953.5,343.9 L954.5,344.6 L955.5,345.2 L956.5,345.7 L957.5,346.0 L958.5,346.3" fill="none" stroke="#4a92e0" stroke-width="3.3" stroke-linejoin="round"/>
<path d="M941.5,336.0 L942.5,336.1 L943.5,336.5 L944.5,336.9 L945.5,337.5 L946.5,338.1 L947.5,338.9 L948.5,339.7 L949.5,340.5 L950.5,341.4 L951.5,342.3 L952.5,343.1 L953.5,343.9 L954.5,344.6 L955.5,345.2 L956.5,345.7 L957.5,346.0 L958.5,346.3" fill="none" stroke="#7db8f2" stroke-width="1.2" transform="translate(0,-0.9)"/>
<path d="M793.5,363.6 L794.5,363.2 L795.5,362.5 L796.5,361.5 L797.5,360.3 L798.5,360.1 L799.5,360.0 L800.5,360.0 L801.5,360.1 L802.5,360.4 L803.5,360.9 L804.5,361.4 L805.5,362.0 L806.5,362.8 L807.5,363.6 L808.5,364.4 L809.5,365.3 L810.5,366.1 L811.6,367.0 L812.6,367.8 L813.6,368.5 L814.6,369.1 L815.6,369.6 L816.6,370.0 L817.6,370.2 L818.6,370.4 L819.6,370.3 L820.6,370.2 L821.6,369.9 L822.6,369.5 L823.6,369.0 L824.6,368.5 L825.6,367.8 L826.6,367.2 L827.6,366.5 L828.6,365.9 L829.6,365.2 L830.6,364.7 L831.6,364.2 L832.6,363.8 L833.6,363.6 L834.6,363.5 L835.6,363.5 L836.6,363.6 L837.6,363.9 L838.6,364.3 L839.6,364.8 L840.6,365.4 L841.6,366.2 L842.6,367.0 L843.6,367.8 L844.6,368.7 L845.6,369.5 L846.7,370.4 L847.7,371.2 L848.7,371.9 L849.7,372.5 L850.7,373.0 L851.7,373.4 L852.7,373.7 L853.7,373.8 L854.7,373.8 L855.7,373.7 L856.7,373.4 L857.7,373.0 L858.7,372.6 L859.7,372.0 L860.7,371.4 L861.7,370.7 L862.7,370.1 L863.7,369.4 L864.7,368.8 L865.7,368.2 L866.7,367.7 L867.7,367.3 L868.7,367.1 L869.7,366.9 L870.7,366.9 L871.7,367.0 L872.7,367.3 L873.7,367.7 L874.7,368.2 L875.7,368.8 L876.7,369.6 L877.7,370.3 L878.7,371.2 L879.7,372.0 L880.7,372.9 L881.8,373.8 L882.8,374.5 L883.8,375.3 L884.8,375.9 L885.8,376.4 L886.8,376.9 L887.8,377.1 L888.8,377.3 L889.8,377.3 L890.8,377.2 L891.8,376.9 L892.8,376.6 L893.8,376.1 L894.8,375.5 L895.8,374.9 L896.8,374.3 L897.8,373.6 L898.8,372.9 L899.8,372.3 L900.8,371.7 L901.8,371.2 L902.8,370.8 L903.8,370.6 L904.8,370.4 L905.8,370.4 L906.8,370.5 L907.8,370.7 L908.8,371.1 L909.8,371.6 L910.8,372.2 L911.8,373.0 L912.8,373.7 L913.8,374.6 L914.8,375.4 L915.8,376.3 L916.8,377.1 L917.9,377.9 L918.9,378.7 L919.9,379.3 L920.9,379.9 L921.9,380.3 L922.9,380.6 L923.9,380.8 L924.9,380.8 L925.9,380.7 L926.9,380.4 L927.9,380.1 L928.9,379.6 L929.9,379.1 L930.9,378.5 L931.9,377.8 L932.9,377.1 L933.9,376.5 L934.9,375.8 L935.9,375.3 L936.9,374.8 L937.9,374.4 L938.9,374.1 L939.9,373.9 L940.9,373.9 L941.9,373.9 L942.9,374.2 L943.9,374.6 L944.9,375.0 L945.9,375.6 L946.9,376.3 L947.9,377.1 L948.9,378.0 L949.9,378.8 L950.9,379.7 L951.9,380.5 L953.0,381.3 L954.0,382.1 L955.0,382.7 L956.0,383.3 L957.0,383.7 L958.0,384.0 L959.0,384.2 L960.0,384.2 L961.0,384.2 L962.0,383.9 L963.0,383.6 L964.0,383.1 L965.0,382.6 L966.0,382.0 L967.0,381.3 L968.0,380.7 L969.0,380.0 L970.0,379.4" fill="none" stroke="#23589c" stroke-width="4.8" stroke-linecap="round" stroke-linejoin="round"/>
<path d="M793.5,363.6 L794.5,363.2 L795.5,362.5 L796.5,361.5 L797.5,360.3 L798.5,360.1 L799.5,360.0 L800.5,360.0 L801.5,360.1 L802.5,360.4 L803.5,360.9 L804.5,361.4 L805.5,362.0 L806.5,362.8 L807.5,363.6 L808.5,364.4 L809.5,365.3 L810.5,366.1 L811.6,367.0 L812.6,367.8 L813.6,368.5 L814.6,369.1 L815.6,369.6 L816.6,370.0 L817.6,370.2 L818.6,370.4 L819.6,370.3 L820.6,370.2 L821.6,369.9 L822.6,369.5 L823.6,369.0 L824.6,368.5 L825.6,367.8 L826.6,367.2 L827.6,366.5 L828.6,365.9 L829.6,365.2 L830.6,364.7 L831.6,364.2 L832.6,363.8 L833.6,363.6 L834.6,363.5 L835.6,363.5 L836.6,363.6 L837.6,363.9 L838.6,364.3 L839.6,364.8 L840.6,365.4 L841.6,366.2 L842.6,367.0 L843.6,367.8 L844.6,368.7 L845.6,369.5 L846.7,370.4 L847.7,371.2 L848.7,371.9 L849.7,372.5 L850.7,373.0 L851.7,373.4 L852.7,373.7 L853.7,373.8 L854.7,373.8 L855.7,373.7 L856.7,373.4 L857.7,373.0 L858.7,372.6 L859.7,372.0 L860.7,371.4 L861.7,370.7 L862.7,370.1 L863.7,369.4 L864.7,368.8 L865.7,368.2 L866.7,367.7 L867.7,367.3 L868.7,367.1 L869.7,366.9 L870.7,366.9 L871.7,367.0 L872.7,367.3 L873.7,367.7 L874.7,368.2 L875.7,368.8 L876.7,369.6 L877.7,370.3 L878.7,371.2 L879.7,372.0 L880.7,372.9 L881.8,373.8 L882.8,374.5 L883.8,375.3 L884.8,375.9 L885.8,376.4 L886.8,376.9 L887.8,377.1 L888.8,377.3 L889.8,377.3 L890.8,377.2 L891.8,376.9 L892.8,376.6 L893.8,376.1 L894.8,375.5 L895.8,374.9 L896.8,374.3 L897.8,373.6 L898.8,372.9 L899.8,372.3 L900.8,371.7 L901.8,371.2 L902.8,370.8 L903.8,370.6 L904.8,370.4 L905.8,370.4 L906.8,370.5 L907.8,370.7 L908.8,371.1 L909.8,371.6 L910.8,372.2 L911.8,373.0 L912.8,373.7 L913.8,374.6 L914.8,375.4 L915.8,376.3 L916.8,377.1 L917.9,377.9 L918.9,378.7 L919.9,379.3 L920.9,379.9 L921.9,380.3 L922.9,380.6 L923.9,380.8 L924.9,380.8 L925.9,380.7 L926.9,380.4 L927.9,380.1 L928.9,379.6 L929.9,379.1 L930.9,378.5 L931.9,377.8 L932.9,377.1 L933.9,376.5 L934.9,375.8 L935.9,375.3 L936.9,374.8 L937.9,374.4 L938.9,374.1 L939.9,373.9 L940.9,373.9 L941.9,373.9 L942.9,374.2 L943.9,374.6 L944.9,375.0 L945.9,375.6 L946.9,376.3 L947.9,377.1 L948.9,378.0 L949.9,378.8 L950.9,379.7 L951.9,380.5 L953.0,381.3 L954.0,382.1 L955.0,382.7 L956.0,383.3 L957.0,383.7 L958.0,384.0 L959.0,384.2 L960.0,384.2 L961.0,384.2 L962.0,383.9 L963.0,383.6 L964.0,383.1 L965.0,382.6 L966.0,382.0 L967.0,381.3 L968.0,380.7 L969.0,380.0 L970.0,379.4" fill="none" stroke="#4a92e0" stroke-width="3.3" stroke-linecap="round" stroke-linejoin="round"/>
<path d="M793.5,363.6 L794.5,363.2 L795.5,362.5 L796.5,361.5 L797.5,360.3 L798.5,360.1 L799.5,360.0 L800.5,360.0 L801.5,360.1 L802.5,360.4 L803.5,360.9 L804.5,361.4 L805.5,362.0 L806.5,362.8 L807.5,363.6 L808.5,364.4 L809.5,365.3 L810.5,366.1 L811.6,367.0 L812.6,367.8 L813.6,368.5 L814.6,369.1 L815.6,369.6 L816.6,370.0 L817.6,370.2 L818.6,370.4 L819.6,370.3 L820.6,370.2 L821.6,369.9 L822.6,369.5 L823.6,369.0 L824.6,368.5 L825.6,367.8 L826.6,367.2 L827.6,366.5 L828.6,365.9 L829.6,365.2 L830.6,364.7 L831.6,364.2 L832.6,363.8 L833.6,363.6 L834.6,363.5 L835.6,363.5 L836.6,363.6 L837.6,363.9 L838.6,364.3 L839.6,364.8 L840.6,365.4 L841.6,366.2 L842.6,367.0 L843.6,367.8 L844.6,368.7 L845.6,369.5 L846.7,370.4 L847.7,371.2 L848.7,371.9 L849.7,372.5 L850.7,373.0 L851.7,373.4 L852.7,373.7 L853.7,373.8 L854.7,373.8 L855.7,373.7 L856.7,373.4 L857.7,373.0 L858.7,372.6 L859.7,372.0 L860.7,371.4 L861.7,370.7 L862.7,370.1 L863.7,369.4 L864.7,368.8 L865.7,368.2 L866.7,367.7 L867.7,367.3 L868.7,367.1 L869.7,366.9 L870.7,366.9 L871.7,367.0 L872.7,367.3 L873.7,367.7 L874.7,368.2 L875.7,368.8 L876.7,369.6 L877.7,370.3 L878.7,371.2 L879.7,372.0 L880.7,372.9 L881.8,373.8 L882.8,374.5 L883.8,375.3 L884.8,375.9 L885.8,376.4 L886.8,376.9 L887.8,377.1 L888.8,377.3 L889.8,377.3 L890.8,377.2 L891.8,376.9 L892.8,376.6 L893.8,376.1 L894.8,375.5 L895.8,374.9 L896.8,374.3 L897.8,373.6 L898.8,372.9 L899.8,372.3 L900.8,371.7 L901.8,371.2 L902.8,370.8 L903.8,370.6 L904.8,370.4 L905.8,370.4 L906.8,370.5 L907.8,370.7 L908.8,371.1 L909.8,371.6 L910.8,372.2 L911.8,373.0 L912.8,373.7 L913.8,374.6 L914.8,375.4 L915.8,376.3 L916.8,377.1 L917.9,377.9 L918.9,378.7 L919.9,379.3 L920.9,379.9 L921.9,380.3 L922.9,380.6 L923.9,380.8 L924.9,380.8 L925.9,380.7 L926.9,380.4 L927.9,380.1 L928.9,379.6 L929.9,379.1 L930.9,378.5 L931.9,377.8 L932.9,377.1 L933.9,376.5 L934.9,375.8 L935.9,375.3 L936.9,374.8 L937.9,374.4 L938.9,374.1 L939.9,373.9 L940.9,373.9 L941.9,373.9 L942.9,374.2 L943.9,374.6 L944.9,375.0 L945.9,375.6 L946.9,376.3 L947.9,377.1 L948.9,378.0 L949.9,378.8 L950.9,379.7 L951.9,380.5 L953.0,381.3 L954.0,382.1 L955.0,382.7 L956.0,383.3 L957.0,383.7 L958.0,384.0 L959.0,384.2 L960.0,384.2 L961.0,384.2 L962.0,383.9 L963.0,383.6 L964.0,383.1 L965.0,382.6 L966.0,382.0 L967.0,381.3 L968.0,380.7 L969.0,380.0 L970.0,379.4" fill="none" stroke="#7db8f2" stroke-width="1.2" stroke-linecap="round" transform="translate(0,-0.9)"/>
<path d="M793.5,363.6 L794.5,364.2 L795.5,365.1 L796.5,366.3 L797.5,367.7 L798.5,368.1 L799.5,368.4 L800.5,368.6 L801.5,368.6 L802.5,368.5 L803.5,368.3 L804.5,368.0 L805.5,367.5 L806.5,367.0 L807.5,366.4 L808.5,365.8 L809.5,365.1 L810.5,364.4 L811.6,363.8 L812.6,363.2 L813.6,362.7 L814.6,362.3 L815.6,361.9 L816.6,361.8 L817.6,361.7 L818.6,361.8 L819.6,362.0 L820.6,362.3 L821.6,362.8 L822.6,363.4 L823.6,364.1 L824.6,364.9 L825.6,365.7 L826.6,366.5 L827.6,367.4 L828.6,368.3 L829.6,369.1 L830.6,369.8 L831.6,370.5 L832.6,371.1 L833.6,371.5 L834.6,371.9 L835.6,372.0 L836.6,372.1 L837.6,372.0 L838.6,371.8 L839.6,371.5 L840.6,371.1 L841.6,370.5 L842.6,369.9 L843.6,369.3 L844.6,368.6 L845.6,368.0 L846.7,367.3 L847.7,366.7 L848.7,366.2 L849.7,365.8 L850.7,365.4 L851.7,365.2 L852.7,365.2 L853.7,365.2 L854.7,365.4 L855.7,365.8 L856.7,366.2 L857.7,366.8 L858.7,367.5 L859.7,368.2 L860.7,369.1 L861.7,369.9 L862.7,370.8 L863.7,371.6 L864.7,372.5 L865.7,373.2 L866.7,373.9 L867.7,374.5 L868.7,375.0 L869.7,375.3 L870.7,375.5 L871.7,375.6 L872.7,375.5 L873.7,375.3 L874.7,375.0 L875.7,374.6 L876.7,374.1 L877.7,373.5 L878.7,372.8 L879.7,372.2 L880.7,371.5 L881.8,370.8 L882.8,370.2 L883.8,369.7 L884.8,369.3 L885.8,368.9 L886.8,368.7 L887.8,368.6 L888.8,368.7 L889.8,368.9 L890.8,369.2 L891.8,369.7 L892.8,370.2 L893.8,370.9 L894.8,371.6 L895.8,372.5 L896.8,373.3 L897.8,374.2 L898.8,375.0 L899.8,375.9 L900.8,376.6 L901.8,377.3 L902.8,377.9 L903.8,378.4 L904.8,378.7 L905.8,379.0 L906.8,379.0 L907.8,379.0 L908.8,378.8 L909.8,378.5 L910.8,378.1 L911.8,377.6 L912.8,377.0 L913.8,376.4 L914.8,375.7 L915.8,375.0 L916.8,374.4 L917.9,373.8 L918.9,373.2 L919.9,372.8 L920.9,372.4 L921.9,372.2 L922.9,372.1 L923.9,372.2 L924.9,372.3 L925.9,372.6 L926.9,373.1 L927.9,373.6 L928.9,374.3 L929.9,375.0 L930.9,375.8 L931.9,376.7 L932.9,377.6 L933.9,378.4 L934.9,379.2 L935.9,380.0 L936.9,380.7 L937.9,381.3 L938.9,381.8 L939.9,382.2 L940.9,382.4 L941.9,382.5 L942.9,382.5 L943.9,382.3 L944.9,382.0 L945.9,381.6 L946.9,381.1 L947.9,380.5 L948.9,379.9 L949.9,379.2 L950.9,378.6 L951.9,377.9 L953.0,377.3 L954.0,376.8 L955.0,376.3 L956.0,375.9 L957.0,375.7 L958.0,375.6 L959.0,375.6 L960.0,375.8 L961.0,376.1 L962.0,376.5 L963.0,377.0 L964.0,377.7 L965.0,378.4 L966.0,379.2 L967.0,380.1 L968.0,380.9 L969.0,381.8 L970.0,382.6" fill="none" stroke="#23589c" stroke-width="4.8" stroke-linecap="round" stroke-linejoin="round"/>
<path d="M793.5,363.6 L794.5,364.2 L795.5,365.1 L796.5,366.3 L797.5,367.7 L798.5,368.1 L799.5,368.4 L800.5,368.6 L801.5,368.6 L802.5,368.5 L803.5,368.3 L804.5,368.0 L805.5,367.5 L806.5,367.0 L807.5,366.4 L808.5,365.8 L809.5,365.1 L810.5,364.4 L811.6,363.8 L812.6,363.2 L813.6,362.7 L814.6,362.3 L815.6,361.9 L816.6,361.8 L817.6,361.7 L818.6,361.8 L819.6,362.0 L820.6,362.3 L821.6,362.8 L822.6,363.4 L823.6,364.1 L824.6,364.9 L825.6,365.7 L826.6,366.5 L827.6,367.4 L828.6,368.3 L829.6,369.1 L830.6,369.8 L831.6,370.5 L832.6,371.1 L833.6,371.5 L834.6,371.9 L835.6,372.0 L836.6,372.1 L837.6,372.0 L838.6,371.8 L839.6,371.5 L840.6,371.1 L841.6,370.5 L842.6,369.9 L843.6,369.3 L844.6,368.6 L845.6,368.0 L846.7,367.3 L847.7,366.7 L848.7,366.2 L849.7,365.8 L850.7,365.4 L851.7,365.2 L852.7,365.2 L853.7,365.2 L854.7,365.4 L855.7,365.8 L856.7,366.2 L857.7,366.8 L858.7,367.5 L859.7,368.2 L860.7,369.1 L861.7,369.9 L862.7,370.8 L863.7,371.6 L864.7,372.5 L865.7,373.2 L866.7,373.9 L867.7,374.5 L868.7,375.0 L869.7,375.3 L870.7,375.5 L871.7,375.6 L872.7,375.5 L873.7,375.3 L874.7,375.0 L875.7,374.6 L876.7,374.1 L877.7,373.5 L878.7,372.8 L879.7,372.2 L880.7,371.5 L881.8,370.8 L882.8,370.2 L883.8,369.7 L884.8,369.3 L885.8,368.9 L886.8,368.7 L887.8,368.6 L888.8,368.7 L889.8,368.9 L890.8,369.2 L891.8,369.7 L892.8,370.2 L893.8,370.9 L894.8,371.6 L895.8,372.5 L896.8,373.3 L897.8,374.2 L898.8,375.0 L899.8,375.9 L900.8,376.6 L901.8,377.3 L902.8,377.9 L903.8,378.4 L904.8,378.7 L905.8,379.0 L906.8,379.0 L907.8,379.0 L908.8,378.8 L909.8,378.5 L910.8,378.1 L911.8,377.6 L912.8,377.0 L913.8,376.4 L914.8,375.7 L915.8,375.0 L916.8,374.4 L917.9,373.8 L918.9,373.2 L919.9,372.8 L920.9,372.4 L921.9,372.2 L922.9,372.1 L923.9,372.2 L924.9,372.3 L925.9,372.6 L926.9,373.1 L927.9,373.6 L928.9,374.3 L929.9,375.0 L930.9,375.8 L931.9,376.7 L932.9,377.6 L933.9,378.4 L934.9,379.2 L935.9,380.0 L936.9,380.7 L937.9,381.3 L938.9,381.8 L939.9,382.2 L940.9,382.4 L941.9,382.5 L942.9,382.5 L943.9,382.3 L944.9,382.0 L945.9,381.6 L946.9,381.1 L947.9,380.5 L948.9,379.9 L949.9,379.2 L950.9,378.6 L951.9,377.9 L953.0,377.3 L954.0,376.8 L955.0,376.3 L956.0,375.9 L957.0,375.7 L958.0,375.6 L959.0,375.6 L960.0,375.8 L961.0,376.1 L962.0,376.5 L963.0,377.0 L964.0,377.7 L965.0,378.4 L966.0,379.2 L967.0,380.1 L968.0,380.9 L969.0,381.8 L970.0,382.6" fill="none" stroke="#4a92e0" stroke-width="3.3" stroke-linecap="round" stroke-linejoin="round"/>
<path d="M793.5,363.6 L794.5,364.2 L795.5,365.1 L796.5,366.3 L797.5,367.7 L798.5,368.1 L799.5,368.4 L800.5,368.6 L801.5,368.6 L802.5,368.5 L803.5,368.3 L804.5,368.0 L805.5,367.5 L806.5,367.0 L807.5,366.4 L808.5,365.8 L809.5,365.1 L810.5,364.4 L811.6,363.8 L812.6,363.2 L813.6,362.7 L814.6,362.3 L815.6,361.9 L816.6,361.8 L817.6,361.7 L818.6,361.8 L819.6,362.0 L820.6,362.3 L821.6,362.8 L822.6,363.4 L823.6,364.1 L824.6,364.9 L825.6,365.7 L826.6,366.5 L827.6,367.4 L828.6,368.3 L829.6,369.1 L830.6,369.8 L831.6,370.5 L832.6,371.1 L833.6,371.5 L834.6,371.9 L835.6,372.0 L836.6,372.1 L837.6,372.0 L838.6,371.8 L839.6,371.5 L840.6,371.1 L841.6,370.5 L842.6,369.9 L843.6,369.3 L844.6,368.6 L845.6,368.0 L846.7,367.3 L847.7,366.7 L848.7,366.2 L849.7,365.8 L850.7,365.4 L851.7,365.2 L852.7,365.2 L853.7,365.2 L854.7,365.4 L855.7,365.8 L856.7,366.2 L857.7,366.8 L858.7,367.5 L859.7,368.2 L860.7,369.1 L861.7,369.9 L862.7,370.8 L863.7,371.6 L864.7,372.5 L865.7,373.2 L866.7,373.9 L867.7,374.5 L868.7,375.0 L869.7,375.3 L870.7,375.5 L871.7,375.6 L872.7,375.5 L873.7,375.3 L874.7,375.0 L875.7,374.6 L876.7,374.1 L877.7,373.5 L878.7,372.8 L879.7,372.2 L880.7,371.5 L881.8,370.8 L882.8,370.2 L883.8,369.7 L884.8,369.3 L885.8,368.9 L886.8,368.7 L887.8,368.6 L888.8,368.7 L889.8,368.9 L890.8,369.2 L891.8,369.7 L892.8,370.2 L893.8,370.9 L894.8,371.6 L895.8,372.5 L896.8,373.3 L897.8,374.2 L898.8,375.0 L899.8,375.9 L900.8,376.6 L901.8,377.3 L902.8,377.9 L903.8,378.4 L904.8,378.7 L905.8,379.0 L906.8,379.0 L907.8,379.0 L908.8,378.8 L909.8,378.5 L910.8,378.1 L911.8,377.6 L912.8,377.0 L913.8,376.4 L914.8,375.7 L915.8,375.0 L916.8,374.4 L917.9,373.8 L918.9,373.2 L919.9,372.8 L920.9,372.4 L921.9,372.2 L922.9,372.1 L923.9,372.2 L924.9,372.3 L925.9,372.6 L926.9,373.1 L927.9,373.6 L928.9,374.3 L929.9,375.0 L930.9,375.8 L931.9,376.7 L932.9,377.6 L933.9,378.4 L934.9,379.2 L935.9,380.0 L936.9,380.7 L937.9,381.3 L938.9,381.8 L939.9,382.2 L940.9,382.4 L941.9,382.5 L942.9,382.5 L943.9,382.3 L944.9,382.0 L945.9,381.6 L946.9,381.1 L947.9,380.5 L948.9,379.9 L949.9,379.2 L950.9,378.6 L951.9,377.9 L953.0,377.3 L954.0,376.8 L955.0,376.3 L956.0,375.9 L957.0,375.7 L958.0,375.6 L959.0,375.6 L960.0,375.8 L961.0,376.1 L962.0,376.5 L963.0,377.0 L964.0,377.7 L965.0,378.4 L966.0,379.2 L967.0,380.1 L968.0,380.9 L969.0,381.8 L970.0,382.6" fill="none" stroke="#7db8f2" stroke-width="1.2" stroke-linecap="round" transform="translate(0,-0.9)"/>
<path d="M801.5,360.1 L802.5,360.4 L803.5,360.9 L804.5,361.4 L805.5,362.0 L806.5,362.8 L807.5,363.6 L808.5,364.4 L809.5,365.3 L810.5,366.1 L811.6,367.0 L812.6,367.8 L813.6,368.5 L814.6,369.1 L815.6,369.6 L816.6,370.0 L817.6,370.2" fill="none" stroke="#23589c" stroke-width="4.8" stroke-linejoin="round"/>
<path d="M801.5,360.1 L802.5,360.4 L803.5,360.9 L804.5,361.4 L805.5,362.0 L806.5,362.8 L807.5,363.6 L808.5,364.4 L809.5,365.3 L810.5,366.1 L811.6,367.0 L812.6,367.8 L813.6,368.5 L814.6,369.1 L815.6,369.6 L816.6,370.0 L817.6,370.2" fill="none" stroke="#4a92e0" stroke-width="3.3" stroke-linejoin="round"/>
<path d="M801.5,360.1 L802.5,360.4 L803.5,360.9 L804.5,361.4 L805.5,362.0 L806.5,362.8 L807.5,363.6 L808.5,364.4 L809.5,365.3 L810.5,366.1 L811.6,367.0 L812.6,367.8 L813.6,368.5 L814.6,369.1 L815.6,369.6 L816.6,370.0 L817.6,370.2" fill="none" stroke="#7db8f2" stroke-width="1.2" transform="translate(0,-0.9)"/>
<path d="M836.6,363.6 L837.6,363.9 L838.6,364.3 L839.6,364.8 L840.6,365.4 L841.6,366.2 L842.6,367.0 L843.6,367.8 L844.6,368.7 L845.6,369.5 L846.7,370.4 L847.7,371.2 L848.7,371.9 L849.7,372.5 L850.7,373.0 L851.7,373.4 L852.7,373.7" fill="none" stroke="#23589c" stroke-width="4.8" stroke-linejoin="round"/>
<path d="M836.6,363.6 L837.6,363.9 L838.6,364.3 L839.6,364.8 L840.6,365.4 L841.6,366.2 L842.6,367.0 L843.6,367.8 L844.6,368.7 L845.6,369.5 L846.7,370.4 L847.7,371.2 L848.7,371.9 L849.7,372.5 L850.7,373.0 L851.7,373.4 L852.7,373.7" fill="none" stroke="#4a92e0" stroke-width="3.3" stroke-linejoin="round"/>
<path d="M836.6,363.6 L837.6,363.9 L838.6,364.3 L839.6,364.8 L840.6,365.4 L841.6,366.2 L842.6,367.0 L843.6,367.8 L844.6,368.7 L845.6,369.5 L846.7,370.4 L847.7,371.2 L848.7,371.9 L849.7,372.5 L850.7,373.0 L851.7,373.4 L852.7,373.7" fill="none" stroke="#7db8f2" stroke-width="1.2" transform="translate(0,-0.9)"/>
<path d="M871.7,367.0 L872.7,367.3 L873.7,367.7 L874.7,368.2 L875.7,368.8 L876.7,369.6 L877.7,370.3 L878.7,371.2 L879.7,372.0 L880.7,372.9 L881.8,373.8 L882.8,374.5 L883.8,375.3 L884.8,375.9 L885.8,376.4 L886.8,376.9 L887.8,377.1" fill="none" stroke="#23589c" stroke-width="4.8" stroke-linejoin="round"/>
<path d="M871.7,367.0 L872.7,367.3 L873.7,367.7 L874.7,368.2 L875.7,368.8 L876.7,369.6 L877.7,370.3 L878.7,371.2 L879.7,372.0 L880.7,372.9 L881.8,373.8 L882.8,374.5 L883.8,375.3 L884.8,375.9 L885.8,376.4 L886.8,376.9 L887.8,377.1" fill="none" stroke="#4a92e0" stroke-width="3.3" stroke-linejoin="round"/>
<path d="M871.7,367.0 L872.7,367.3 L873.7,367.7 L874.7,368.2 L875.7,368.8 L876.7,369.6 L877.7,370.3 L878.7,371.2 L879.7,372.0 L880.7,372.9 L881.8,373.8 L882.8,374.5 L883.8,375.3 L884.8,375.9 L885.8,376.4 L886.8,376.9 L887.8,377.1" fill="none" stroke="#7db8f2" stroke-width="1.2" transform="translate(0,-0.9)"/>
<path d="M906.8,370.5 L907.8,370.7 L908.8,371.1 L909.8,371.6 L910.8,372.2 L911.8,373.0 L912.8,373.7 L913.8,374.6 L914.8,375.4 L915.8,376.3 L916.8,377.1 L917.9,377.9 L918.9,378.7 L919.9,379.3 L920.9,379.9 L921.9,380.3 L922.9,380.6" fill="none" stroke="#23589c" stroke-width="4.8" stroke-linejoin="round"/>
<path d="M906.8,370.5 L907.8,370.7 L908.8,371.1 L909.8,371.6 L910.8,372.2 L911.8,373.0 L912.8,373.7 L913.8,374.6 L914.8,375.4 L915.8,376.3 L916.8,377.1 L917.9,377.9 L918.9,378.7 L919.9,379.3 L920.9,379.9 L921.9,380.3 L922.9,380.6" fill="none" stroke="#4a92e0" stroke-width="3.3" stroke-linejoin="round"/>
<path d="M906.8,370.5 L907.8,370.7 L908.8,371.1 L909.8,371.6 L910.8,372.2 L911.8,373.0 L912.8,373.7 L913.8,374.6 L914.8,375.4 L915.8,376.3 L916.8,377.1 L917.9,377.9 L918.9,378.7 L919.9,379.3 L920.9,379.9 L921.9,380.3 L922.9,380.6" fill="none" stroke="#7db8f2" stroke-width="1.2" transform="translate(0,-0.9)"/>
<path d="M941.9,373.9 L942.9,374.2 L943.9,374.6 L944.9,375.0 L945.9,375.6 L946.9,376.3 L947.9,377.1 L948.9,378.0 L949.9,378.8 L950.9,379.7 L951.9,380.5 L953.0,381.3 L954.0,382.1 L955.0,382.7 L956.0,383.3 L957.0,383.7 L958.0,384.0 L959.0,384.2" fill="none" stroke="#23589c" stroke-width="4.8" stroke-linejoin="round"/>
<path d="M941.9,373.9 L942.9,374.2 L943.9,374.6 L944.9,375.0 L945.9,375.6 L946.9,376.3 L947.9,377.1 L948.9,378.0 L949.9,378.8 L950.9,379.7 L951.9,380.5 L953.0,381.3 L954.0,382.1 L955.0,382.7 L956.0,383.3 L957.0,383.7 L958.0,384.0 L959.0,384.2" fill="none" stroke="#4a92e0" stroke-width="3.3" stroke-linejoin="round"/>
<path d="M941.9,373.9 L942.9,374.2 L943.9,374.6 L944.9,375.0 L945.9,375.6 L946.9,376.3 L947.9,377.1 L948.9,378.0 L949.9,378.8 L950.9,379.7 L951.9,380.5 L953.0,381.3 L954.0,382.1 L955.0,382.7 L956.0,383.3 L957.0,383.7 L958.0,384.0 L959.0,384.2" fill="none" stroke="#7db8f2" stroke-width="1.2" transform="translate(0,-0.9)"/>
<g transform="translate(166.4,429.8) rotate(5.50) skewX(-13.50)" fill="none" stroke="#000" stroke-width="5.00" stroke-linecap="round" stroke-linejoin="round"><path d="M0,-66.9 L0,0 L19.7,0"/><path d="M38.7,-46.9 L38.7,0"/><path d="M63.9,-46.3 L39.5,-19.5"/><path d="M47,-27.8 L62.9,0.3"/></g>
<g transform="translate(617.6,464.9) rotate(5.50) skewX(-13.50)" fill="none" stroke="#000" stroke-width="5.00" stroke-linecap="round" stroke-linejoin="round"><path d="M0,-66.9 L0,0 L19.7,0"/><path d="M38.7,-46.9 L38.7,0"/><path d="M63.9,-46.3 L39.5,-19.5"/><path d="M47,-27.8 L62.9,0.3"/></g>
<g transform="translate(423.8,533.6) rotate(5.50) skewX(-13.50)" fill="none" stroke="#000" stroke-width="5.00" stroke-linecap="round" stroke-linejoin="round"><path d="M0,-66.9 L0,0 L20.3,0"/></g>
<g transform="translate(611.7,171.4) rotate(5.50) skewX(-13.50)" fill="none" stroke="#000" stroke-width="5.00" stroke-linecap="round" stroke-linejoin="round"><path d="M0,0 L0,-66.3 L14.5,-66.3 Q29.5,-66.3 29.5,-51.3 L29.5,-15.0 Q29.5,0.0 14.5,0 Z"/></g>
<g transform="translate(611.0,172.5) rotate(5.50) skewX(-13.50)" fill="none" stroke="#000" stroke-width="3.00" stroke-linecap="round" stroke-linejoin="round"><path d="M50,4.5 L71,4.5"/><path d="M82.1,12.3 L82.1,-14.7 Q82.1,-23.2 90.6,-23.2 L92.4,-23.2 Q100.9,-23.2 100.9,-14.7 L100.9,12.3 Q100.9,20.8 92.4,20.8 L90.6,20.8 Q82.1,20.8 82.1,12.3 Z"/><path d="M114,20.5 L111.2,28.8"/><path d="M125.1,12.3 L125.1,-14.7 Q125.1,-23.2 133.6,-23.2 L135.4,-23.2 Q143.9,-23.2 143.9,-14.7 L143.9,12.3 Q143.9,20.8 135.4,20.8 L133.6,20.8 Q125.1,20.8 125.1,12.3 Z"/><path d="M175.4,-23 L158,-23 L157.5,-2.1 L167.5,-2.1 Q174.6,-2.1 174.6,6 L174.6,13.5 Q174.6,21.8 166.8,21.8 L157.6,21.8"/></g>
</svg>
</body></html>
